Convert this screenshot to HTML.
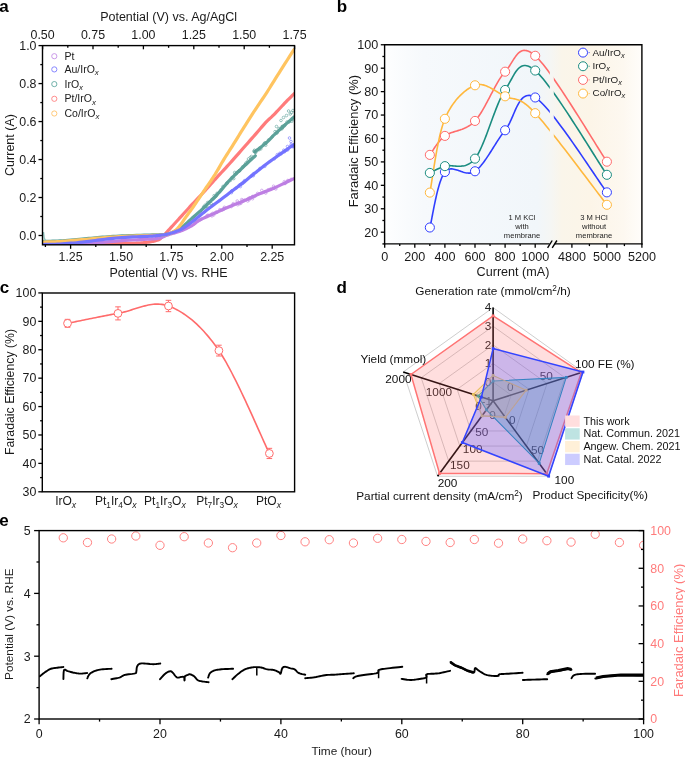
<!DOCTYPE html>
<html><head><meta charset="utf-8"><style>
html,body{margin:0;padding:0;background:#fff;width:685px;height:758px;overflow:hidden}
svg{display:block;will-change:transform}
text{font-family:"Liberation Sans", sans-serif}
</style></head><body>
<svg width="685" height="758" viewBox="0 0 685 758" font-family='"Liberation Sans", sans-serif'>
<text x="-0.80" y="12.30" font-size="17" text-anchor="start" fill="#000" font-weight="bold" >a</text>
<clipPath id="ca"><rect x="42.5" y="45.6" width="252.0" height="199.20000000000002"/></clipPath>
<g clip-path="url(#ca)">
<path d="M43.50,243.80 L46.36,243.80 L50.21,243.80 L54.80,243.81 L59.88,243.81 L65.18,243.81 L70.48,243.81 L75.50,243.81 L80.00,243.80 L84.13,243.78 L88.19,243.76 L92.17,243.74 L96.03,243.71 L99.77,243.68 L103.36,243.65 L106.77,243.63 L110.00,243.60 L113.05,243.58 L115.94,243.55 L118.67,243.53 L121.25,243.51 L123.67,243.49 L125.94,243.46 L128.05,243.43 L130.00,243.40 L131.73,243.36 L133.20,243.33 L134.48,243.30 L135.62,243.26 L136.69,243.21 L137.73,243.15 L138.82,243.08 L140.00,243.00 L141.27,242.90 L142.57,242.79 L143.88,242.66 L145.19,242.52 L146.47,242.38 L147.71,242.23 L148.89,242.07 L150.00,241.90 L151.05,241.72 L152.05,241.53 L153.02,241.33 L153.94,241.12 L154.80,240.91 L155.60,240.70 L156.34,240.49 L157.00,240.30 L157.55,240.14 L157.97,240.03 L158.31,239.94 L158.59,239.84 L158.87,239.71 L159.17,239.53 L159.53,239.27 L160.00,238.90 L160.55,238.44 L161.13,237.92 L161.76,237.33 L162.42,236.67 L163.12,235.96 L163.87,235.20 L164.66,234.37 L165.50,233.50 L166.40,232.56 L167.35,231.53 L168.36,230.44 L169.41,229.30 L170.49,228.12 L171.59,226.92 L172.70,225.71 L173.80,224.50 L174.92,223.28 L176.06,222.03 L177.22,220.76 L178.39,219.47 L179.58,218.17 L180.76,216.87 L181.94,215.58 L183.10,214.30 L184.25,213.03 L185.41,211.76 L186.56,210.49 L187.71,209.22 L188.85,207.95 L190.00,206.69 L191.15,205.44 L192.30,204.20 L193.45,202.97 L194.60,201.76 L195.75,200.56 L196.89,199.36 L198.04,198.16 L199.19,196.96 L200.35,195.74 L201.50,194.50 L202.67,193.23 L203.87,191.91 L205.07,190.58 L206.28,189.24 L207.46,187.92 L208.62,186.63 L209.74,185.38 L210.80,184.20 L211.78,183.12 L212.66,182.12 L213.50,181.19 L214.31,180.29 L215.13,179.37 L216.00,178.41 L216.94,177.36 L218.00,176.20 L219.16,174.94 L220.37,173.63 L221.65,172.26 L222.98,170.83 L224.36,169.34 L225.80,167.79 L227.28,166.18 L228.80,164.50 L230.39,162.73 L232.06,160.86 L233.79,158.91 L235.56,156.90 L237.36,154.86 L239.16,152.82 L240.95,150.79 L242.70,148.80 L244.46,146.80 L246.26,144.76 L248.07,142.70 L249.87,140.65 L251.64,138.64 L253.35,136.69 L254.98,134.83 L256.50,133.10 L257.90,131.49 L259.21,129.96 L260.44,128.52 L261.61,127.14 L262.74,125.83 L263.83,124.58 L264.91,123.37 L266.00,122.20 L267.05,121.12 L268.04,120.16 L268.99,119.28 L269.93,118.43 L270.87,117.58 L271.85,116.69 L272.88,115.71 L274.00,114.60 L275.22,113.34 L276.52,111.97 L277.88,110.52 L279.27,109.01 L280.67,107.50 L282.06,106.00 L283.41,104.56 L284.70,103.20 L285.99,101.87 L287.34,100.49 L288.70,99.12 L290.02,97.79 L291.26,96.55 L292.36,95.44 L293.29,94.51 L294.00,93.80" fill="none" stroke="#ff7b7b" stroke-width="3.2" stroke-linecap="round" stroke-linejoin="round"/>
<path d="M43.50,244.60 L44.74,244.57 L46.34,244.54 L48.24,244.50 L50.38,244.46 L52.68,244.40 L55.10,244.34 L57.56,244.28 L60.00,244.20 L62.51,244.11 L65.21,244.01 L68.02,243.89 L70.91,243.78 L73.80,243.65 L76.65,243.53 L79.40,243.41 L82.00,243.30 L84.41,243.20 L86.69,243.12 L88.87,243.04 L91.00,242.96 L93.13,242.88 L95.31,242.78 L97.59,242.65 L100.00,242.50 L102.52,242.31 L105.08,242.09 L107.69,241.85 L110.38,241.59 L113.13,241.33 L115.98,241.07 L118.94,240.83 L122.00,240.60 L125.34,240.39 L129.00,240.19 L132.85,240.00 L136.75,239.81 L140.55,239.62 L144.12,239.44 L147.32,239.27 L150.00,239.10 L152.14,238.94 L153.86,238.80 L155.24,238.68 L156.38,238.55 L157.33,238.42 L158.20,238.27 L159.06,238.10 L160.00,237.90 L160.95,237.66 L161.80,237.39 L162.59,237.09 L163.31,236.78 L164.00,236.47 L164.66,236.16 L165.33,235.87 L166.00,235.60 L166.67,235.36 L167.32,235.13 L167.95,234.91 L168.56,234.69 L169.17,234.49 L169.77,234.29 L170.38,234.09 L171.00,233.90 L171.61,233.72 L172.20,233.55 L172.78,233.40 L173.37,233.25 L173.97,233.09 L174.60,232.92 L175.27,232.73 L176.00,232.50 L176.77,232.25 L177.58,232.00 L178.42,231.74 L179.29,231.45 L180.19,231.14 L181.13,230.80 L182.10,230.42 L183.10,230.00 L184.16,229.53 L185.29,229.02 L186.46,228.47 L187.66,227.89 L188.87,227.28 L190.06,226.66 L191.21,226.03 L192.30,225.40 L193.29,224.76 L194.17,224.11 L194.99,223.45 L195.81,222.78 L196.67,222.08 L197.63,221.37 L198.72,220.65 L200.00,219.90 L201.49,219.13 L203.16,218.33 L204.97,217.51 L206.87,216.67 L208.82,215.82 L210.79,214.98 L212.73,214.13 L214.60,213.30 L216.42,212.47 L218.25,211.63 L220.07,210.79 L221.90,209.95 L223.72,209.12 L225.55,208.29 L227.38,207.49 L229.20,206.70 L231.02,205.94 L232.85,205.21 L234.67,204.50 L236.50,203.80 L238.32,203.10 L240.15,202.39 L241.97,201.66 L243.80,200.90 L245.62,200.11 L247.45,199.29 L249.28,198.45 L251.10,197.60 L252.93,196.75 L254.75,195.91 L256.57,195.09 L258.40,194.30 L260.18,193.56 L261.90,192.89 L263.59,192.25 L265.30,191.61 L267.06,190.94 L268.90,190.22 L270.87,189.42 L273.00,188.50 L275.46,187.39 L278.29,186.08 L281.33,184.65 L284.41,183.19 L287.38,181.77 L290.08,180.47 L292.34,179.39 L294.00,178.60" fill="none" stroke="#bf7fe3" stroke-width="3.2" stroke-linecap="round" stroke-linejoin="round"/>
<path d="M43.50,241.40 L44.74,241.37 L46.34,241.34 L48.24,241.31 L50.38,241.26 L52.68,241.20 L55.10,241.13 L57.56,241.03 L60.00,240.90 L62.51,240.74 L65.21,240.54 L68.02,240.32 L70.91,240.07 L73.80,239.82 L76.65,239.57 L79.40,239.33 L82.00,239.10 L84.41,238.88 L86.69,238.66 L88.87,238.45 L91.00,238.23 L93.13,238.02 L95.31,237.81 L97.59,237.60 L100.00,237.40 L102.52,237.20 L105.08,237.00 L107.69,236.80 L110.38,236.60 L113.13,236.41 L115.98,236.23 L118.94,236.06 L122.00,235.90 L125.34,235.75 L129.00,235.62 L132.85,235.49 L136.75,235.38 L140.55,235.27 L144.12,235.17 L147.32,235.08 L150.00,235.00 L152.15,234.93 L153.88,234.88 L155.29,234.84 L156.44,234.81 L157.41,234.79 L158.27,234.76 L159.11,234.73 L160.00,234.70 L160.86,234.67 L161.60,234.65 L162.24,234.63 L162.81,234.61 L163.34,234.58 L163.87,234.54 L164.41,234.48 L165.00,234.40 L165.62,234.30 L166.23,234.20 L166.83,234.08 L167.44,233.94 L168.05,233.79 L168.68,233.62 L169.33,233.42 L170.00,233.20 L170.69,232.95 L171.40,232.69 L172.13,232.40 L172.87,232.09 L173.63,231.76 L174.40,231.40 L175.19,231.02 L176.00,230.60 L176.82,230.17 L177.65,229.74 L178.49,229.29 L179.35,228.81 L180.24,228.28 L181.15,227.70 L182.10,227.04 L183.10,226.30 L184.15,225.45 L185.25,224.50 L186.40,223.47 L187.57,222.38 L188.76,221.27 L189.95,220.15 L191.14,219.05 L192.30,218.00 L193.45,216.99 L194.60,216.01 L195.75,215.03 L196.89,214.06 L198.04,213.07 L199.19,212.08 L200.35,211.06 L201.50,210.00 L202.66,208.90 L203.84,207.76 L205.02,206.60 L206.21,205.42 L207.38,204.24 L208.54,203.06 L209.68,201.92 L210.80,200.80 L211.87,199.75 L212.89,198.76 L213.88,197.81 L214.86,196.86 L215.86,195.88 L216.88,194.85 L217.95,193.73 L219.10,192.50 L220.31,191.14 L221.55,189.67 L222.84,188.12 L224.16,186.51 L225.52,184.87 L226.91,183.22 L228.34,181.59 L229.80,180.00 L231.31,178.43 L232.88,176.86 L234.49,175.28 L236.13,173.70 L237.79,172.13 L239.44,170.57 L241.09,169.02 L242.70,167.50 L244.38,165.92 L246.17,164.24 L248.00,162.54 L249.81,160.87 L251.51,159.30 L253.04,157.88 L254.33,156.70 L255.30,155.80" fill="none" stroke="#5ea39b" stroke-width="3.2" stroke-linecap="round" stroke-linejoin="round"/>
<path d="M254.80,151.80 L255.67,151.13 L256.84,150.25 L258.24,149.19 L259.78,148.02 L261.39,146.78 L262.98,145.53 L264.48,144.32 L265.80,143.20 L266.96,142.15 L268.03,141.12 L269.04,140.10 L270.02,139.08 L270.99,138.06 L271.98,137.02 L273.00,135.97 L274.10,134.90 L275.26,133.80 L276.46,132.67 L277.69,131.53 L278.94,130.38 L280.21,129.23 L281.48,128.07 L282.75,126.93 L284.00,125.80 L285.31,124.63 L286.73,123.37 L288.18,122.09 L289.62,120.83 L290.98,119.64 L292.20,118.57 L293.23,117.68 L294.00,117.00" fill="none" stroke="#5ea39b" stroke-width="3.2" stroke-linecap="round" stroke-linejoin="round"/>
<path d="M43.50,242.00 L44.74,241.97 L46.34,241.94 L48.24,241.91 L50.38,241.86 L52.68,241.80 L55.10,241.73 L57.56,241.63 L60.00,241.50 L62.51,241.34 L65.21,241.14 L68.02,240.92 L70.91,240.68 L73.80,240.42 L76.65,240.17 L79.40,239.93 L82.00,239.70 L84.41,239.48 L86.69,239.26 L88.87,239.05 L91.00,238.83 L93.13,238.62 L95.31,238.41 L97.59,238.20 L100.00,238.00 L102.52,237.80 L105.08,237.60 L107.69,237.40 L110.38,237.21 L113.13,237.02 L115.98,236.84 L118.94,236.66 L122.00,236.50 L125.34,236.35 L129.00,236.20 L132.85,236.06 L136.75,235.92 L140.55,235.80 L144.12,235.69 L147.32,235.59 L150.00,235.50 L152.15,235.43 L153.88,235.38 L155.29,235.34 L156.44,235.31 L157.41,235.29 L158.27,235.27 L159.11,235.24 L160.00,235.20 L160.87,235.16 L161.64,235.12 L162.31,235.07 L162.91,235.03 L163.45,234.98 L163.97,234.93 L164.48,234.87 L165.00,234.80 L165.51,234.72 L165.98,234.64 L166.42,234.56 L166.84,234.46 L167.25,234.36 L167.66,234.25 L168.07,234.13 L168.50,234.00 L168.92,233.88 L169.30,233.78 L169.68,233.69 L170.06,233.57 L170.47,233.43 L170.91,233.23 L171.42,232.96 L172.00,232.60 L172.66,232.17 L173.39,231.69 L174.17,231.17 L175.00,230.57 L175.86,229.91 L176.73,229.17 L177.62,228.33 L178.50,227.40 L179.40,226.32 L180.34,225.07 L181.31,223.71 L182.29,222.28 L183.26,220.82 L184.21,219.39 L185.13,218.04 L186.00,216.80 L186.80,215.70 L187.55,214.69 L188.26,213.74 L188.96,212.82 L189.65,211.90 L190.36,210.94 L191.10,209.92 L191.90,208.80 L192.75,207.58 L193.65,206.28 L194.57,204.92 L195.51,203.53 L196.47,202.11 L197.42,200.69 L198.37,199.28 L199.30,197.90 L200.21,196.55 L201.11,195.21 L202.00,193.88 L202.89,192.55 L203.79,191.20 L204.70,189.84 L205.64,188.44 L206.60,187.00 L207.59,185.54 L208.60,184.06 L209.63,182.57 L210.68,181.04 L211.74,179.48 L212.82,177.88 L213.90,176.22 L215.00,174.50 L216.11,172.69 L217.24,170.80 L218.39,168.84 L219.54,166.84 L220.71,164.82 L221.87,162.81 L223.04,160.83 L224.20,158.90 L225.36,157.02 L226.52,155.16 L227.68,153.33 L228.85,151.50 L230.02,149.68 L231.18,147.86 L232.34,146.04 L233.50,144.20 L234.63,142.39 L235.73,140.61 L236.82,138.86 L237.91,137.09 L239.03,135.28 L240.18,133.42 L241.40,131.47 L242.70,129.40 L244.09,127.19 L245.57,124.86 L247.10,122.43 L248.68,119.94 L250.28,117.43 L251.88,114.93 L253.46,112.47 L255.00,110.10 L256.51,107.81 L258.00,105.57 L259.49,103.37 L260.97,101.18 L262.46,99.00 L263.93,96.80 L265.42,94.57 L266.90,92.30 L268.36,90.01 L269.80,87.74 L271.22,85.47 L272.64,83.17 L274.10,80.82 L275.59,78.41 L277.15,75.91 L278.80,73.30 L280.65,70.40 L282.72,67.15 L284.93,63.72 L287.14,60.26 L289.27,56.96 L291.19,53.97 L292.80,51.46 L294.00,49.60" fill="none" stroke="#ffc460" stroke-width="3.2" stroke-linecap="round" stroke-linejoin="round"/>
<path d="M43.50,244.50 L44.74,244.47 L46.34,244.44 L48.24,244.41 L50.38,244.36 L52.68,244.30 L55.10,244.23 L57.56,244.13 L60.00,244.00 L62.51,243.84 L65.21,243.65 L68.02,243.44 L70.91,243.21 L73.80,242.97 L76.65,242.72 L79.40,242.46 L82.00,242.20 L84.41,241.94 L86.69,241.66 L88.87,241.38 L91.00,241.09 L93.13,240.79 L95.31,240.49 L97.59,240.20 L100.00,239.90 L102.52,239.60 L105.08,239.28 L107.69,238.96 L110.38,238.64 L113.13,238.32 L115.98,238.03 L118.94,237.75 L122.00,237.50 L125.34,237.28 L129.00,237.09 L132.85,236.91 L136.75,236.76 L140.55,236.61 L144.12,236.47 L147.32,236.34 L150.00,236.20 L152.15,236.07 L153.88,235.94 L155.29,235.82 L156.44,235.71 L157.41,235.60 L158.27,235.49 L159.11,235.40 L160.00,235.30 L160.86,235.21 L161.60,235.14 L162.24,235.08 L162.81,235.02 L163.34,234.96 L163.87,234.89 L164.41,234.80 L165.00,234.70 L165.62,234.58 L166.23,234.46 L166.83,234.33 L167.44,234.19 L168.05,234.04 L168.68,233.88 L169.33,233.70 L170.00,233.50 L170.69,233.29 L171.40,233.06 L172.13,232.83 L172.87,232.57 L173.63,232.31 L174.40,232.02 L175.19,231.72 L176.00,231.40 L176.82,231.08 L177.65,230.75 L178.49,230.43 L179.35,230.07 L180.24,229.69 L181.15,229.26 L182.10,228.77 L183.10,228.20 L184.15,227.55 L185.25,226.83 L186.40,226.04 L187.57,225.21 L188.76,224.35 L189.95,223.47 L191.14,222.58 L192.30,221.70 L193.45,220.82 L194.60,219.91 L195.75,218.99 L196.89,218.06 L198.04,217.11 L199.19,216.17 L200.35,215.23 L201.50,214.30 L202.66,213.37 L203.84,212.42 L205.02,211.46 L206.21,210.51 L207.38,209.57 L208.54,208.65 L209.68,207.76 L210.80,206.90 L211.87,206.10 L212.88,205.36 L213.87,204.65 L214.85,203.96 L215.84,203.26 L216.87,202.53 L217.94,201.75 L219.10,200.90 L220.31,199.99 L221.56,199.05 L222.84,198.08 L224.16,197.07 L225.53,196.02 L226.96,194.93 L228.45,193.79 L230.00,192.60 L231.65,191.34 L233.41,190.01 L235.24,188.62 L237.12,187.19 L239.01,185.74 L240.90,184.30 L242.73,182.88 L244.50,181.50 L246.22,180.13 L247.95,178.75 L249.66,177.36 L251.34,175.99 L252.98,174.65 L254.57,173.36 L256.08,172.14 L257.50,171.00 L258.83,169.95 L260.07,168.97 L261.23,168.05 L262.34,167.19 L263.41,166.36 L264.45,165.56 L265.47,164.78 L266.50,164.00 L267.49,163.25 L268.42,162.55 L269.31,161.89 L270.19,161.25 L271.07,160.61 L271.98,159.95 L272.95,159.25 L274.00,158.50 L275.13,157.70 L276.32,156.86 L277.57,155.98 L278.84,155.09 L280.14,154.19 L281.44,153.29 L282.73,152.39 L284.00,151.50 L285.32,150.58 L286.73,149.59 L288.19,148.57 L289.62,147.56 L290.98,146.61 L292.20,145.76 L293.23,145.04 L294.00,144.50" fill="none" stroke="#7575ff" stroke-width="3.2" stroke-linecap="round" stroke-linejoin="round"/>
<path d="M43.5,232 L44.2,238 L45.5,240.5" fill="none" stroke="#8fc3bd" stroke-width="1.4"/>
<circle cx="230.44" cy="180.39" r="1.3" stroke="#5a9f97" fill="none" stroke-width="0.6" />
<circle cx="206.81" cy="206.36" r="1.3" stroke="#5a9f97" fill="none" stroke-width="0.6" />
<circle cx="250.37" cy="157.45" r="1.3" stroke="#5a9f97" fill="none" stroke-width="0.6" />
<circle cx="247.70" cy="161.42" r="1.3" stroke="#5a9f97" fill="none" stroke-width="0.6" />
<circle cx="203.52" cy="207.80" r="1.3" stroke="#5a9f97" fill="none" stroke-width="0.6" />
<circle cx="208.53" cy="203.25" r="1.3" stroke="#5a9f97" fill="none" stroke-width="0.6" />
<circle cx="239.90" cy="170.49" r="1.3" stroke="#5a9f97" fill="none" stroke-width="0.6" />
<circle cx="220.98" cy="189.72" r="1.3" stroke="#5a9f97" fill="none" stroke-width="0.6" />
<circle cx="258.98" cy="149.74" r="1.3" stroke="#5a9f97" fill="none" stroke-width="0.6" />
<circle cx="237.29" cy="172.22" r="1.3" stroke="#5a9f97" fill="none" stroke-width="0.6" />
<circle cx="291.77" cy="121.26" r="1.3" stroke="#5a9f97" fill="none" stroke-width="0.6" />
<circle cx="227.22" cy="183.25" r="1.3" stroke="#5a9f97" fill="none" stroke-width="0.6" />
<circle cx="213.56" cy="198.76" r="1.3" stroke="#5a9f97" fill="none" stroke-width="0.6" />
<circle cx="276.72" cy="132.91" r="1.3" stroke="#5a9f97" fill="none" stroke-width="0.6" />
<circle cx="216.99" cy="193.36" r="1.3" stroke="#5a9f97" fill="none" stroke-width="0.6" />
<circle cx="235.01" cy="174.31" r="1.3" stroke="#5a9f97" fill="none" stroke-width="0.6" />
<circle cx="251.49" cy="156.48" r="1.3" stroke="#5a9f97" fill="none" stroke-width="0.6" />
<circle cx="219.36" cy="192.13" r="1.3" stroke="#5a9f97" fill="none" stroke-width="0.6" />
<circle cx="263.96" cy="143.85" r="1.3" stroke="#5a9f97" fill="none" stroke-width="0.6" />
<circle cx="255.04" cy="152.26" r="1.3" stroke="#5a9f97" fill="none" stroke-width="0.6" />
<circle cx="242.60" cy="166.84" r="1.3" stroke="#5a9f97" fill="none" stroke-width="0.6" />
<circle cx="265.71" cy="145.23" r="1.3" stroke="#5a9f97" fill="none" stroke-width="0.6" />
<circle cx="222.95" cy="186.49" r="1.3" stroke="#5a9f97" fill="none" stroke-width="0.6" />
<circle cx="282.26" cy="126.50" r="1.3" stroke="#5a9f97" fill="none" stroke-width="0.6" />
<circle cx="268.57" cy="139.92" r="1.3" stroke="#5a9f97" fill="none" stroke-width="0.6" />
<circle cx="211.10" cy="203.64" r="1.3" stroke="#5a9f97" fill="none" stroke-width="0.6" />
<circle cx="239.30" cy="170.88" r="1.3" stroke="#5a9f97" fill="none" stroke-width="0.6" />
<circle cx="245.96" cy="162.95" r="1.3" stroke="#5a9f97" fill="none" stroke-width="0.6" />
<circle cx="203.69" cy="206.76" r="1.3" stroke="#5a9f97" fill="none" stroke-width="0.6" />
<circle cx="253.86" cy="151.32" r="1.3" stroke="#5a9f97" fill="none" stroke-width="0.6" />
<circle cx="282.29" cy="126.44" r="1.3" stroke="#5a9f97" fill="none" stroke-width="0.6" />
<circle cx="255.87" cy="152.35" r="1.3" stroke="#5a9f97" fill="none" stroke-width="0.6" />
<circle cx="254.51" cy="150.22" r="1.3" stroke="#5a9f97" fill="none" stroke-width="0.6" />
<circle cx="288.80" cy="121.95" r="1.3" stroke="#5a9f97" fill="none" stroke-width="0.6" />
<circle cx="244.57" cy="165.03" r="1.3" stroke="#5a9f97" fill="none" stroke-width="0.6" />
<circle cx="265.94" cy="142.84" r="1.3" stroke="#5a9f97" fill="none" stroke-width="0.6" />
<circle cx="260.83" cy="148.88" r="1.3" stroke="#5a9f97" fill="none" stroke-width="0.6" />
<circle cx="226.75" cy="183.13" r="1.3" stroke="#5a9f97" fill="none" stroke-width="0.6" />
<circle cx="236.26" cy="173.82" r="1.3" stroke="#5a9f97" fill="none" stroke-width="0.6" />
<circle cx="243.40" cy="166.56" r="1.3" stroke="#5a9f97" fill="none" stroke-width="0.6" />
<circle cx="215.80" cy="196.39" r="1.3" stroke="#5a9f97" fill="none" stroke-width="0.6" />
<circle cx="272.21" cy="136.89" r="1.3" stroke="#5a9f97" fill="none" stroke-width="0.6" />
<circle cx="212.16" cy="199.56" r="1.3" stroke="#5a9f97" fill="none" stroke-width="0.6" />
<circle cx="281.91" cy="128.81" r="1.3" stroke="#5a9f97" fill="none" stroke-width="0.6" />
<circle cx="207.57" cy="202.56" r="1.3" stroke="#5a9f97" fill="none" stroke-width="0.6" />
<circle cx="283.04" cy="127.18" r="1.3" stroke="#5a9f97" fill="none" stroke-width="0.6" />
<circle cx="277.01" cy="132.86" r="1.3" stroke="#5a9f97" fill="none" stroke-width="0.6" />
<circle cx="239.04" cy="170.75" r="1.3" stroke="#5a9f97" fill="none" stroke-width="0.6" />
<circle cx="233.72" cy="178.60" r="1.3" stroke="#5a9f97" fill="none" stroke-width="0.6" />
<circle cx="214.19" cy="195.61" r="1.3" stroke="#5a9f97" fill="none" stroke-width="0.6" />
<circle cx="216.56" cy="195.37" r="1.3" stroke="#5a9f97" fill="none" stroke-width="0.6" />
<circle cx="245.59" cy="164.50" r="1.3" stroke="#5a9f97" fill="none" stroke-width="0.6" />
<circle cx="255.38" cy="151.20" r="1.3" stroke="#5a9f97" fill="none" stroke-width="0.6" />
<circle cx="239.38" cy="170.96" r="1.3" stroke="#5a9f97" fill="none" stroke-width="0.6" />
<circle cx="234.71" cy="172.44" r="1.3" stroke="#5a9f97" fill="none" stroke-width="0.6" />
<circle cx="264.91" cy="142.81" r="1.3" stroke="#5a9f97" fill="none" stroke-width="0.6" />
<circle cx="248.46" cy="158.93" r="1.3" stroke="#5a9f97" fill="none" stroke-width="0.6" />
<circle cx="205.08" cy="205.15" r="1.3" stroke="#5a9f97" fill="none" stroke-width="0.6" />
<circle cx="284.56" cy="125.80" r="1.3" stroke="#5a9f97" fill="none" stroke-width="0.6" />
<circle cx="275.00" cy="131.62" r="1.3" stroke="#5a9f97" fill="none" stroke-width="0.6" />
<circle cx="236.88" cy="172.89" r="1.3" stroke="#5a9f97" fill="none" stroke-width="0.6" />
<circle cx="259.62" cy="148.17" r="1.3" stroke="#5a9f97" fill="none" stroke-width="0.6" />
<circle cx="205.85" cy="206.64" r="1.3" stroke="#5a9f97" fill="none" stroke-width="0.6" />
<circle cx="215.26" cy="196.81" r="1.3" stroke="#5a9f97" fill="none" stroke-width="0.6" />
<circle cx="231.97" cy="177.58" r="1.3" stroke="#5a9f97" fill="none" stroke-width="0.6" />
<circle cx="214.22" cy="197.63" r="1.3" stroke="#5a9f97" fill="none" stroke-width="0.6" />
<circle cx="209.54" cy="201.96" r="1.3" stroke="#5a9f97" fill="none" stroke-width="0.6" />
<circle cx="282.19" cy="127.82" r="1.3" stroke="#5a9f97" fill="none" stroke-width="0.6" />
<circle cx="257.72" cy="149.69" r="1.3" stroke="#5a9f97" fill="none" stroke-width="0.6" />
<circle cx="232.65" cy="177.69" r="1.3" stroke="#5a9f97" fill="none" stroke-width="0.6" />
<circle cx="253.31" cy="175.65" r="1.3" stroke="#7070ff" fill="none" stroke-width="0.6" />
<circle cx="293.56" cy="146.14" r="1.3" stroke="#7070ff" fill="none" stroke-width="0.6" />
<circle cx="259.82" cy="168.59" r="1.3" stroke="#7070ff" fill="none" stroke-width="0.6" />
<circle cx="236.54" cy="187.80" r="1.3" stroke="#7070ff" fill="none" stroke-width="0.6" />
<circle cx="251.93" cy="175.30" r="1.3" stroke="#7070ff" fill="none" stroke-width="0.6" />
<circle cx="240.33" cy="186.56" r="1.3" stroke="#7070ff" fill="none" stroke-width="0.6" />
<circle cx="231.48" cy="192.65" r="1.3" stroke="#7070ff" fill="none" stroke-width="0.6" />
<circle cx="239.38" cy="185.12" r="1.3" stroke="#7070ff" fill="none" stroke-width="0.6" />
<circle cx="264.76" cy="166.34" r="1.3" stroke="#7070ff" fill="none" stroke-width="0.6" />
<circle cx="292.62" cy="145.64" r="1.3" stroke="#7070ff" fill="none" stroke-width="0.6" />
<circle cx="285.25" cy="150.54" r="1.3" stroke="#7070ff" fill="none" stroke-width="0.6" />
<circle cx="253.47" cy="173.73" r="1.3" stroke="#7070ff" fill="none" stroke-width="0.6" />
<circle cx="240.69" cy="184.45" r="1.3" stroke="#7070ff" fill="none" stroke-width="0.6" />
<circle cx="279.86" cy="153.27" r="1.3" stroke="#7070ff" fill="none" stroke-width="0.6" />
<circle cx="251.10" cy="176.27" r="1.3" stroke="#7070ff" fill="none" stroke-width="0.6" />
<circle cx="293.04" cy="146.79" r="1.3" stroke="#7070ff" fill="none" stroke-width="0.6" />
<circle cx="284.57" cy="151.72" r="1.3" stroke="#7070ff" fill="none" stroke-width="0.6" />
<circle cx="277.35" cy="154.60" r="1.3" stroke="#7070ff" fill="none" stroke-width="0.6" />
<circle cx="244.51" cy="180.66" r="1.3" stroke="#7070ff" fill="none" stroke-width="0.6" />
<circle cx="231.85" cy="190.99" r="1.3" stroke="#7070ff" fill="none" stroke-width="0.6" />
<circle cx="231.79" cy="190.95" r="1.3" stroke="#7070ff" fill="none" stroke-width="0.6" />
<circle cx="274.32" cy="158.87" r="1.3" stroke="#7070ff" fill="none" stroke-width="0.6" />
<circle cx="291.22" cy="144.43" r="1.3" stroke="#7070ff" fill="none" stroke-width="0.6" />
<circle cx="293.23" cy="145.61" r="1.3" stroke="#7070ff" fill="none" stroke-width="0.6" />
<circle cx="291.12" cy="146.01" r="1.3" stroke="#7070ff" fill="none" stroke-width="0.6" />
<circle cx="244.52" cy="181.98" r="1.3" stroke="#7070ff" fill="none" stroke-width="0.6" />
<circle cx="242.59" cy="183.52" r="1.3" stroke="#7070ff" fill="none" stroke-width="0.6" />
<circle cx="287.62" cy="149.98" r="1.3" stroke="#7070ff" fill="none" stroke-width="0.6" />
<circle cx="283.79" cy="150.20" r="1.3" stroke="#7070ff" fill="none" stroke-width="0.6" />
<circle cx="281.18" cy="153.82" r="1.3" stroke="#7070ff" fill="none" stroke-width="0.6" />
<circle cx="207.97" cy="215.16" r="1.3" stroke="#bb80e2" fill="none" stroke-width="0.6" />
<circle cx="273.54" cy="186.23" r="1.3" stroke="#bb80e2" fill="none" stroke-width="0.6" />
<circle cx="270.51" cy="188.96" r="1.3" stroke="#bb80e2" fill="none" stroke-width="0.6" />
<circle cx="274.18" cy="188.17" r="1.3" stroke="#bb80e2" fill="none" stroke-width="0.6" />
<circle cx="231.26" cy="206.63" r="1.3" stroke="#bb80e2" fill="none" stroke-width="0.6" />
<circle cx="237.21" cy="200.99" r="1.3" stroke="#bb80e2" fill="none" stroke-width="0.6" />
<circle cx="237.73" cy="204.76" r="1.3" stroke="#bb80e2" fill="none" stroke-width="0.6" />
<circle cx="215.98" cy="212.11" r="1.3" stroke="#bb80e2" fill="none" stroke-width="0.6" />
<circle cx="211.94" cy="215.90" r="1.3" stroke="#bb80e2" fill="none" stroke-width="0.6" />
<circle cx="275.81" cy="188.91" r="1.3" stroke="#bb80e2" fill="none" stroke-width="0.6" />
<circle cx="213.74" cy="214.93" r="1.3" stroke="#bb80e2" fill="none" stroke-width="0.6" />
<circle cx="261.78" cy="190.40" r="1.3" stroke="#bb80e2" fill="none" stroke-width="0.6" />
<circle cx="232.94" cy="204.71" r="1.3" stroke="#bb80e2" fill="none" stroke-width="0.6" />
<circle cx="201.34" cy="219.13" r="1.3" stroke="#bb80e2" fill="none" stroke-width="0.6" />
<circle cx="291.26" cy="179.29" r="1.3" stroke="#bb80e2" fill="none" stroke-width="0.6" />
<circle cx="287.76" cy="180.51" r="1.3" stroke="#bb80e2" fill="none" stroke-width="0.6" />
<circle cx="240.78" cy="203.39" r="1.3" stroke="#bb80e2" fill="none" stroke-width="0.6" />
<circle cx="219.84" cy="209.61" r="1.3" stroke="#bb80e2" fill="none" stroke-width="0.6" />
<circle cx="223.67" cy="209.08" r="1.3" stroke="#bb80e2" fill="none" stroke-width="0.6" />
<circle cx="255.13" cy="196.30" r="1.3" stroke="#bb80e2" fill="none" stroke-width="0.6" />
<circle cx="224.38" cy="208.49" r="1.3" stroke="#bb80e2" fill="none" stroke-width="0.6" />
<circle cx="285.54" cy="182.87" r="1.3" stroke="#bb80e2" fill="none" stroke-width="0.6" />
<circle cx="233.26" cy="203.65" r="1.3" stroke="#bb80e2" fill="none" stroke-width="0.6" />
<circle cx="285.00" cy="183.53" r="1.3" stroke="#bb80e2" fill="none" stroke-width="0.6" />
<circle cx="239.54" cy="203.70" r="1.3" stroke="#bb80e2" fill="none" stroke-width="0.6" />
<circle cx="249.99" cy="197.70" r="1.3" stroke="#bb80e2" fill="none" stroke-width="0.6" />
<circle cx="249.21" cy="199.69" r="1.3" stroke="#bb80e2" fill="none" stroke-width="0.6" />
<circle cx="217.21" cy="212.09" r="1.3" stroke="#bb80e2" fill="none" stroke-width="0.6" />
<circle cx="200.37" cy="219.78" r="1.3" stroke="#bb80e2" fill="none" stroke-width="0.6" />
<circle cx="244.51" cy="200.00" r="1.3" stroke="#bb80e2" fill="none" stroke-width="0.6" />
<circle cx="268.17" cy="189.68" r="1.3" stroke="#bb80e2" fill="none" stroke-width="0.6" />
<circle cx="248.72" cy="198.31" r="1.3" stroke="#bb80e2" fill="none" stroke-width="0.6" />
<circle cx="252.21" cy="197.02" r="1.3" stroke="#bb80e2" fill="none" stroke-width="0.6" />
<circle cx="252.67" cy="196.46" r="1.3" stroke="#bb80e2" fill="none" stroke-width="0.6" />
<circle cx="223.36" cy="208.99" r="1.3" stroke="#bb80e2" fill="none" stroke-width="0.6" />
<circle cx="247.73" cy="200.98" r="1.3" stroke="#bb80e2" fill="none" stroke-width="0.6" />
<circle cx="252.80" cy="197.06" r="1.3" stroke="#bb80e2" fill="none" stroke-width="0.6" />
<circle cx="241.67" cy="199.60" r="1.3" stroke="#bb80e2" fill="none" stroke-width="0.6" />
<circle cx="257.58" cy="193.42" r="1.3" stroke="#bb80e2" fill="none" stroke-width="0.6" />
<circle cx="265.12" cy="191.56" r="1.3" stroke="#bb80e2" fill="none" stroke-width="0.6" />
<circle cx="242.52" cy="200.39" r="1.3" stroke="#bb80e2" fill="none" stroke-width="0.6" />
<circle cx="288.50" cy="180.73" r="1.3" stroke="#bb80e2" fill="none" stroke-width="0.6" />
<circle cx="265.73" cy="193.05" r="1.3" stroke="#bb80e2" fill="none" stroke-width="0.6" />
<circle cx="224.40" cy="207.28" r="1.3" stroke="#bb80e2" fill="none" stroke-width="0.6" />
<circle cx="252.59" cy="198.71" r="1.3" stroke="#bb80e2" fill="none" stroke-width="0.6" />
<circle cx="212.89" cy="213.30" r="1.3" stroke="#bb80e2" fill="none" stroke-width="0.6" />
<circle cx="211.43" cy="214.27" r="1.3" stroke="#bb80e2" fill="none" stroke-width="0.6" />
<circle cx="222.62" cy="209.75" r="1.3" stroke="#bb80e2" fill="none" stroke-width="0.6" />
<circle cx="206.87" cy="215.82" r="1.3" stroke="#bb80e2" fill="none" stroke-width="0.6" />
<circle cx="284.32" cy="181.66" r="1.3" stroke="#bb80e2" fill="none" stroke-width="0.6" />
<circle cx="289.50" cy="138.00" r="1.3" stroke="#6b6bff" fill="none" stroke-width="0.6" />
<circle cx="288.60" cy="111.00" r="1.3" stroke="#5a9f97" fill="none" stroke-width="0.6" />
<circle cx="291.50" cy="112.50" r="1.3" stroke="#5a9f97" fill="none" stroke-width="0.6" />
<circle cx="290.20" cy="114.00" r="1.3" stroke="#5a9f97" fill="none" stroke-width="0.6" />
<circle cx="293.00" cy="110.50" r="1.3" stroke="#5a9f97" fill="none" stroke-width="0.6" />
<circle cx="286.50" cy="115.50" r="1.3" stroke="#5a9f97" fill="none" stroke-width="0.6" />
<circle cx="283.50" cy="117.50" r="1.3" stroke="#5a9f97" fill="none" stroke-width="0.6" />
<circle cx="281.00" cy="120.50" r="1.3" stroke="#5a9f97" fill="none" stroke-width="0.6" />
<circle cx="292.50" cy="119.50" r="1.3" stroke="#5a9f97" fill="none" stroke-width="0.6" />
<circle cx="289.50" cy="121.50" r="1.3" stroke="#5a9f97" fill="none" stroke-width="0.6" />
<circle cx="287.00" cy="122.00" r="1.3" stroke="#5a9f97" fill="none" stroke-width="0.6" />
<circle cx="285.00" cy="124.80" r="1.3" stroke="#5a9f97" fill="none" stroke-width="0.6" />
<circle cx="276.50" cy="126.50" r="1.3" stroke="#5a9f97" fill="none" stroke-width="0.6" />
<circle cx="279.00" cy="128.50" r="1.3" stroke="#5a9f97" fill="none" stroke-width="0.6" />
<circle cx="291.00" cy="141.50" r="1.3" stroke="#7070ff" fill="none" stroke-width="0.6" />
<circle cx="287.50" cy="146.50" r="1.3" stroke="#7070ff" fill="none" stroke-width="0.6" />
</g>
<rect x="42.50" y="45.60" width="252.00" height="199.20" fill="none" stroke="#000" stroke-width="1.4"/>
<line x1="38.50" y1="235.50" x2="42.50" y2="235.50" stroke="#000" stroke-width="1.3" />
<text x="36.50" y="239.80" font-size="12.4" text-anchor="end" fill="#1a1a1a" font-weight="normal" >0.0</text>
<line x1="38.50" y1="197.52" x2="42.50" y2="197.52" stroke="#000" stroke-width="1.3" />
<text x="36.50" y="201.82" font-size="12.4" text-anchor="end" fill="#1a1a1a" font-weight="normal" >0.2</text>
<line x1="38.50" y1="159.54" x2="42.50" y2="159.54" stroke="#000" stroke-width="1.3" />
<text x="36.50" y="163.84" font-size="12.4" text-anchor="end" fill="#1a1a1a" font-weight="normal" >0.4</text>
<line x1="38.50" y1="121.56" x2="42.50" y2="121.56" stroke="#000" stroke-width="1.3" />
<text x="36.50" y="125.86" font-size="12.4" text-anchor="end" fill="#1a1a1a" font-weight="normal" >0.6</text>
<line x1="38.50" y1="83.58" x2="42.50" y2="83.58" stroke="#000" stroke-width="1.3" />
<text x="36.50" y="87.88" font-size="12.4" text-anchor="end" fill="#1a1a1a" font-weight="normal" >0.8</text>
<line x1="38.50" y1="45.60" x2="42.50" y2="45.60" stroke="#000" stroke-width="1.3" />
<text x="36.50" y="49.90" font-size="12.4" text-anchor="end" fill="#1a1a1a" font-weight="normal" >1.0</text>
<line x1="40.30" y1="216.51" x2="42.50" y2="216.51" stroke="#000" stroke-width="1.3" />
<line x1="40.30" y1="178.53" x2="42.50" y2="178.53" stroke="#000" stroke-width="1.3" />
<line x1="40.30" y1="140.55" x2="42.50" y2="140.55" stroke="#000" stroke-width="1.3" />
<line x1="40.30" y1="102.57" x2="42.50" y2="102.57" stroke="#000" stroke-width="1.3" />
<line x1="40.30" y1="64.59" x2="42.50" y2="64.59" stroke="#000" stroke-width="1.3" />
<line x1="42.60" y1="45.60" x2="42.60" y2="49.30" stroke="#000" stroke-width="1.3" />
<text x="42.60" y="38.80" font-size="12.4" text-anchor="middle" fill="#1a1a1a" font-weight="normal" >0.50</text>
<line x1="93.00" y1="45.60" x2="93.00" y2="49.30" stroke="#000" stroke-width="1.3" />
<text x="93.00" y="38.80" font-size="12.4" text-anchor="middle" fill="#1a1a1a" font-weight="normal" >0.75</text>
<line x1="143.40" y1="45.60" x2="143.40" y2="49.30" stroke="#000" stroke-width="1.3" />
<text x="143.40" y="38.80" font-size="12.4" text-anchor="middle" fill="#1a1a1a" font-weight="normal" >1.00</text>
<line x1="193.80" y1="45.60" x2="193.80" y2="49.30" stroke="#000" stroke-width="1.3" />
<text x="193.80" y="38.80" font-size="12.4" text-anchor="middle" fill="#1a1a1a" font-weight="normal" >1.25</text>
<line x1="244.20" y1="45.60" x2="244.20" y2="49.30" stroke="#000" stroke-width="1.3" />
<text x="244.20" y="38.80" font-size="12.4" text-anchor="middle" fill="#1a1a1a" font-weight="normal" >1.50</text>
<line x1="294.60" y1="45.60" x2="294.60" y2="49.30" stroke="#000" stroke-width="1.3" />
<text x="294.60" y="38.80" font-size="12.4" text-anchor="middle" fill="#1a1a1a" font-weight="normal" >1.75</text>
<line x1="67.80" y1="45.60" x2="67.80" y2="47.80" stroke="#000" stroke-width="1.3" />
<line x1="118.20" y1="45.60" x2="118.20" y2="47.80" stroke="#000" stroke-width="1.3" />
<line x1="168.60" y1="45.60" x2="168.60" y2="47.80" stroke="#000" stroke-width="1.3" />
<line x1="219.00" y1="45.60" x2="219.00" y2="47.80" stroke="#000" stroke-width="1.3" />
<line x1="269.40" y1="45.60" x2="269.40" y2="47.80" stroke="#000" stroke-width="1.3" />
<line x1="70.60" y1="244.80" x2="70.60" y2="248.80" stroke="#000" stroke-width="1.3" />
<text x="70.60" y="260.50" font-size="12.4" text-anchor="middle" fill="#1a1a1a" font-weight="normal" >1.25</text>
<line x1="121.00" y1="244.80" x2="121.00" y2="248.80" stroke="#000" stroke-width="1.3" />
<text x="121.00" y="260.50" font-size="12.4" text-anchor="middle" fill="#1a1a1a" font-weight="normal" >1.50</text>
<line x1="171.40" y1="244.80" x2="171.40" y2="248.80" stroke="#000" stroke-width="1.3" />
<text x="171.40" y="260.50" font-size="12.4" text-anchor="middle" fill="#1a1a1a" font-weight="normal" >1.75</text>
<line x1="221.80" y1="244.80" x2="221.80" y2="248.80" stroke="#000" stroke-width="1.3" />
<text x="221.80" y="260.50" font-size="12.4" text-anchor="middle" fill="#1a1a1a" font-weight="normal" >2.00</text>
<line x1="272.20" y1="244.80" x2="272.20" y2="248.80" stroke="#000" stroke-width="1.3" />
<text x="272.20" y="260.50" font-size="12.4" text-anchor="middle" fill="#1a1a1a" font-weight="normal" >2.25</text>
<line x1="45.40" y1="244.80" x2="45.40" y2="247.00" stroke="#000" stroke-width="1.3" />
<line x1="95.80" y1="244.80" x2="95.80" y2="247.00" stroke="#000" stroke-width="1.3" />
<line x1="146.20" y1="244.80" x2="146.20" y2="247.00" stroke="#000" stroke-width="1.3" />
<line x1="196.60" y1="244.80" x2="196.60" y2="247.00" stroke="#000" stroke-width="1.3" />
<line x1="247.00" y1="244.80" x2="247.00" y2="247.00" stroke="#000" stroke-width="1.3" />
<text x="168.60" y="21.00" font-size="12.5" text-anchor="middle" fill="#1a1a1a" font-weight="normal" >Potential (V) vs. Ag/AgCl</text>
<text x="168.50" y="276.70" font-size="12.5" text-anchor="middle" fill="#1a1a1a" font-weight="normal" >Potential (V) vs. RHE</text>
<text x="14.20" y="145.00" font-size="12.5" text-anchor="middle" fill="#1a1a1a" font-weight="normal" transform="rotate(-90 14.2 145)">Current (A)</text>
<circle cx="54.30" cy="56.20" r="2.6" stroke="#c58fe6" fill="none" stroke-width="0.9" />
<text x="64.50" y="59.70" font-size="10.5" text-anchor="start" fill="#1a1a1a" font-weight="normal" >Pt</text>
<circle cx="54.30" cy="69.40" r="2.6" stroke="#7b7bff" fill="none" stroke-width="0.9" />
<text x="64.50" y="72.90" font-size="10.5" text-anchor="start" fill="#1a1a1a" font-weight="normal" >Au/IrO<tspan font-style="italic" font-size="0.75em" dy="0.28em">x</tspan></text>
<circle cx="54.30" cy="84.10" r="2.6" stroke="#62a8a0" fill="none" stroke-width="0.9" />
<text x="64.50" y="87.60" font-size="10.5" text-anchor="start" fill="#1a1a1a" font-weight="normal" >IrO<tspan font-style="italic" font-size="0.75em" dy="0.28em">x</tspan></text>
<circle cx="54.30" cy="98.80" r="2.6" stroke="#ff8080" fill="none" stroke-width="0.9" />
<text x="64.50" y="102.30" font-size="10.5" text-anchor="start" fill="#1a1a1a" font-weight="normal" >Pt/IrO<tspan font-style="italic" font-size="0.75em" dy="0.28em">x</tspan></text>
<circle cx="54.30" cy="113.50" r="2.6" stroke="#ffc36b" fill="none" stroke-width="0.9" />
<text x="64.50" y="117.00" font-size="10.5" text-anchor="start" fill="#1a1a1a" font-weight="normal" >Co/IrO<tspan font-style="italic" font-size="0.75em" dy="0.28em">x</tspan></text>
<text x="336.80" y="12.30" font-size="17" text-anchor="start" fill="#000" font-weight="bold" >b</text>
<linearGradient id="gb" x1="384.5" y1="0" x2="641.5" y2="0" gradientUnits="userSpaceOnUse">
<stop offset="0" stop-color="#ffffff"/>
<stop offset="0.03" stop-color="#fcfdfe"/>
<stop offset="0.15" stop-color="#f6f9fc"/>
<stop offset="0.595" stop-color="#f1f6fa"/>
<stop offset="0.645" stop-color="#f5f6f4"/>
<stop offset="0.69" stop-color="#faf5ea"/>
<stop offset="0.80" stop-color="#fcf5e8"/>
<stop offset="0.93" stop-color="#fdf8f0"/>
<stop offset="1" stop-color="#fffdfa"/>
</linearGradient>
<rect x="384.6" y="44.7" width="257.29999999999995" height="199.2" fill="url(#gb)"/>
<text x="522.00" y="220.40" font-size="7.6" text-anchor="middle" fill="#222" font-weight="normal" >1 M KCl</text>
<text x="522.00" y="229.05" font-size="7.6" text-anchor="middle" fill="#222" font-weight="normal" >with</text>
<text x="522.00" y="237.70" font-size="7.6" text-anchor="middle" fill="#222" font-weight="normal" >membrane</text>
<text x="594.00" y="220.40" font-size="7.6" text-anchor="middle" fill="#222" font-weight="normal" >3 M HCl</text>
<text x="594.00" y="229.05" font-size="7.6" text-anchor="middle" fill="#222" font-weight="normal" >without</text>
<text x="594.00" y="237.70" font-size="7.6" text-anchor="middle" fill="#222" font-weight="normal" >membrane</text>
<clipPath id="cb"><rect x="384.6" y="44.7" width="257.29999999999995" height="199.2"/></clipPath>
<g clip-path="url(#cb)">
<clipPath id="cbg"><rect x="384.5" y="44.7" width="165.3" height="199.2"/><rect x="553.8" y="44.7" width="87.7" height="199.2"/></clipPath>
<g clip-path="url(#cbg)">
<path d="M429.85,227.51 L430.11,226.50 L430.39,225.31 L430.68,223.96 L430.99,222.47 L431.31,220.84 L431.66,219.08 L432.02,217.22 L432.39,215.26 L432.78,213.21 L433.19,211.09 L433.62,208.90 L434.06,206.67 L434.52,204.40 L435.00,202.10 L435.49,199.79 L436.00,197.48 L436.53,195.19 L437.07,192.91 L437.63,190.68 L438.21,188.49 L438.80,186.36 L439.42,184.31 L440.04,182.34 L440.69,180.47 L441.35,178.71 L442.02,177.07 L442.72,175.57 L443.43,174.21 L444.16,173.01 L444.90,171.98 L445.67,171.13 L446.47,170.43 L447.30,169.88 L448.16,169.46 L449.05,169.16 L449.96,168.98 L450.89,168.90 L451.85,168.92 L452.82,169.01 L453.82,169.18 L454.83,169.41 L455.86,169.69 L456.90,170.01 L457.95,170.36 L459.01,170.73 L460.08,171.10 L461.16,171.47 L462.24,171.83 L463.32,172.17 L464.41,172.47 L465.50,172.73 L466.58,172.93 L467.66,173.07 L468.74,173.12 L469.81,173.10 L470.87,172.97 L471.92,172.74 L472.96,172.39 L473.99,171.90 L475.00,171.28 L476.00,170.54 L477.01,169.70 L478.01,168.78 L479.01,167.77 L480.02,166.69 L481.02,165.53 L482.02,164.31 L483.03,163.02 L484.03,161.68 L485.03,160.30 L486.04,158.86 L487.04,157.39 L488.04,155.88 L489.05,154.35 L490.05,152.79 L491.05,151.21 L492.06,149.62 L493.06,148.02 L494.06,146.43 L495.07,144.83 L496.07,143.25 L497.07,141.68 L498.08,140.13 L499.08,138.60 L500.08,137.11 L501.09,135.65 L502.09,134.23 L503.09,132.86 L504.10,131.54 L505.10,130.28 L506.08,128.99 L507.02,127.59 L507.92,126.09 L508.79,124.51 L509.64,122.86 L510.45,121.15 L511.26,119.40 L512.04,117.61 L512.82,115.81 L513.59,114.01 L514.37,112.21 L515.14,110.44 L515.93,108.70 L516.73,107.01 L517.55,105.39 L518.39,103.83 L519.26,102.37 L520.16,101.01 L521.10,99.77 L522.09,98.65 L523.11,97.67 L524.19,96.85 L525.32,96.20 L526.52,95.73 L527.78,95.46 L529.10,95.39 L530.51,95.55 L531.99,95.94 L533.55,96.58 L535.20,97.48 L536.98,98.70 L538.92,100.29 L541.01,102.22 L543.23,104.47 L545.57,107.00 L548.02,109.80 L550.57,112.84 L553.21,116.10 L555.91,119.55 L558.67,123.16 L561.48,126.92 L564.33,130.79 L567.19,134.76 L570.06,138.80 L572.93,142.87 L575.78,146.97 L578.61,151.06 L581.39,155.12 L584.11,159.12 L586.77,163.04 L589.35,166.85 L591.84,170.54 L594.22,174.07 L596.48,177.42 L598.62,180.57 L600.61,183.48 L602.45,186.15 L604.12,188.53 L605.60,190.62 L606.90,192.37" fill="none" stroke="#2f3dff" stroke-width="1.6"/>
<path d="M429.85,172.92 L430.11,172.80 L430.39,172.67 L430.68,172.52 L430.99,172.36 L431.31,172.19 L431.66,172.01 L432.02,171.82 L432.39,171.62 L432.78,171.41 L433.19,171.19 L433.62,170.96 L434.06,170.73 L434.52,170.49 L435.00,170.24 L435.49,169.99 L436.00,169.74 L436.53,169.48 L437.07,169.22 L437.63,168.96 L438.21,168.70 L438.80,168.43 L439.42,168.17 L440.04,167.90 L440.69,167.64 L441.35,167.38 L442.02,167.12 L442.72,166.87 L443.43,166.61 L444.16,166.37 L444.90,166.13 L445.67,165.92 L446.47,165.77 L447.30,165.68 L448.16,165.63 L449.05,165.63 L449.96,165.65 L450.89,165.70 L451.85,165.77 L452.82,165.86 L453.82,165.95 L454.83,166.03 L455.86,166.11 L456.90,166.18 L457.95,166.23 L459.01,166.24 L460.08,166.23 L461.16,166.17 L462.24,166.07 L463.32,165.91 L464.41,165.68 L465.50,165.40 L466.58,165.03 L467.66,164.59 L468.74,164.05 L469.81,163.43 L470.87,162.70 L471.92,161.86 L472.96,160.91 L473.99,159.83 L475.00,158.63 L476.00,157.27 L477.01,155.73 L478.01,154.02 L479.01,152.16 L480.02,150.16 L481.02,148.03 L482.02,145.78 L483.03,143.43 L484.03,140.98 L485.03,138.45 L486.04,135.86 L487.04,133.21 L488.04,130.52 L489.05,127.79 L490.05,125.05 L491.05,122.30 L492.06,119.56 L493.06,116.83 L494.06,114.14 L495.07,111.48 L496.07,108.88 L497.07,106.35 L498.08,103.90 L499.08,101.54 L500.08,99.28 L501.09,97.14 L502.09,95.13 L503.09,93.25 L504.10,91.53 L505.10,89.98 L506.08,88.50 L507.02,87.00 L507.92,85.49 L508.79,83.97 L509.64,82.46 L510.45,80.96 L511.26,79.49 L512.04,78.04 L512.82,76.63 L513.59,75.27 L514.37,73.96 L515.14,72.72 L515.93,71.55 L516.73,70.45 L517.55,69.45 L518.39,68.54 L519.26,67.74 L520.16,67.04 L521.10,66.47 L522.09,66.03 L523.11,65.72 L524.19,65.57 L525.32,65.56 L526.52,65.72 L527.78,66.05 L529.10,66.55 L530.51,67.25 L531.99,68.14 L533.55,69.23 L535.20,70.53 L536.98,72.14 L538.92,74.11 L541.01,76.42 L543.23,79.04 L545.57,81.96 L548.02,85.14 L550.57,88.55 L553.21,92.18 L555.91,96.00 L558.67,99.99 L561.48,104.10 L564.33,108.34 L567.19,112.65 L570.06,117.03 L572.93,121.45 L575.78,125.88 L578.61,130.29 L581.39,134.66 L584.11,138.97 L586.77,143.18 L589.35,147.28 L591.84,151.24 L594.22,155.04 L596.48,158.64 L598.62,162.02 L600.61,165.16 L602.45,168.04 L604.12,170.62 L605.60,172.88 L606.90,174.80" fill="none" stroke="#1a8c80" stroke-width="1.6"/>
<path d="M429.85,154.88 L430.11,154.54 L430.39,154.16 L430.68,153.73 L430.99,153.27 L431.31,152.77 L431.66,152.24 L432.02,151.67 L432.39,151.08 L432.78,150.46 L433.19,149.81 L433.62,149.15 L434.06,148.46 L434.52,147.77 L435.00,147.05 L435.49,146.33 L436.00,145.60 L436.53,144.86 L437.07,144.12 L437.63,143.38 L438.21,142.64 L438.80,141.90 L439.42,141.17 L440.04,140.45 L440.69,139.75 L441.35,139.05 L442.02,138.38 L442.72,137.72 L443.43,137.09 L444.16,136.48 L444.90,135.90 L445.67,135.36 L446.47,134.86 L447.30,134.40 L448.16,133.97 L449.05,133.57 L449.96,133.20 L450.89,132.84 L451.85,132.51 L452.82,132.19 L453.82,131.88 L454.83,131.57 L455.86,131.26 L456.90,130.95 L457.95,130.63 L459.01,130.29 L460.08,129.94 L461.16,129.57 L462.24,129.18 L463.32,128.75 L464.41,128.29 L465.50,127.79 L466.58,127.26 L467.66,126.67 L468.74,126.03 L469.81,125.34 L470.87,124.59 L471.92,123.77 L472.96,122.89 L473.99,121.94 L475.00,120.91 L476.00,119.78 L477.01,118.55 L478.01,117.22 L479.01,115.80 L480.02,114.30 L481.02,112.72 L482.02,111.08 L483.03,109.37 L484.03,107.61 L485.03,105.81 L486.04,103.97 L487.04,102.09 L488.04,100.20 L489.05,98.28 L490.05,96.36 L491.05,94.44 L492.06,92.53 L493.06,90.63 L494.06,88.76 L495.07,86.91 L496.07,85.10 L497.07,83.33 L498.08,81.62 L499.08,79.96 L500.08,78.38 L501.09,76.86 L502.09,75.43 L503.09,74.09 L504.10,72.84 L505.10,71.70 L506.08,70.59 L507.02,69.42 L507.92,68.22 L508.79,66.98 L509.64,65.71 L510.45,64.44 L511.26,63.16 L512.04,61.89 L512.82,60.64 L513.59,59.42 L514.37,58.23 L515.14,57.09 L515.93,56.00 L516.73,54.99 L517.55,54.04 L518.39,53.19 L519.26,52.43 L520.16,51.78 L521.10,51.24 L522.09,50.83 L523.11,50.55 L524.19,50.42 L525.32,50.44 L526.52,50.63 L527.78,50.99 L529.10,51.54 L530.51,52.28 L531.99,53.23 L533.55,54.39 L535.20,55.77 L536.98,57.46 L538.92,59.51 L541.01,61.90 L543.23,64.61 L545.57,67.60 L548.02,70.85 L550.57,74.34 L553.21,78.04 L555.91,81.92 L558.67,85.97 L561.48,90.15 L564.33,94.44 L567.19,98.82 L570.06,103.26 L572.93,107.73 L575.78,112.21 L578.61,116.67 L581.39,121.09 L584.11,125.45 L586.77,129.71 L589.35,133.85 L591.84,137.85 L594.22,141.68 L596.48,145.32 L598.62,148.74 L600.61,151.92 L602.45,154.83 L604.12,157.44 L605.60,159.73 L606.90,161.68" fill="none" stroke="#ff6b6b" stroke-width="1.6"/>
<path d="M429.85,192.60 L430.11,191.27 L430.39,189.74 L430.68,188.03 L430.99,186.15 L431.31,184.11 L431.66,181.92 L432.02,179.60 L432.39,177.16 L432.78,174.62 L433.19,171.98 L433.62,169.25 L434.06,166.46 L434.52,163.61 L435.00,160.72 L435.49,157.80 L436.00,154.85 L436.53,151.90 L437.07,148.96 L437.63,146.04 L438.21,143.15 L438.80,140.30 L439.42,137.51 L440.04,134.80 L440.69,132.16 L441.35,129.62 L442.02,127.19 L442.72,124.88 L443.43,122.70 L444.16,120.67 L444.90,118.80 L445.67,117.03 L446.47,115.30 L447.30,113.62 L448.16,111.97 L449.05,110.37 L449.96,108.81 L450.89,107.29 L451.85,105.81 L452.82,104.38 L453.82,103.00 L454.83,101.65 L455.86,100.36 L456.90,99.11 L457.95,97.90 L459.01,96.75 L460.08,95.63 L461.16,94.57 L462.24,93.56 L463.32,92.59 L464.41,91.67 L465.50,90.80 L466.58,89.99 L467.66,89.22 L468.74,88.50 L469.81,87.84 L470.87,87.22 L471.92,86.66 L472.96,86.15 L473.99,85.70 L475.00,85.29 L476.00,84.96 L477.01,84.72 L478.01,84.57 L479.01,84.49 L480.02,84.49 L481.02,84.55 L482.02,84.69 L483.03,84.89 L484.03,85.14 L485.03,85.45 L486.04,85.81 L487.04,86.21 L488.04,86.66 L489.05,87.14 L490.05,87.65 L491.05,88.19 L492.06,88.76 L493.06,89.34 L494.06,89.94 L495.07,90.55 L496.07,91.17 L497.07,91.79 L498.08,92.41 L499.08,93.02 L500.08,93.62 L501.09,94.20 L502.09,94.77 L503.09,95.31 L504.10,95.82 L505.10,96.31 L506.08,96.74 L507.02,97.11 L507.92,97.42 L508.79,97.69 L509.64,97.91 L510.45,98.11 L511.26,98.28 L512.04,98.44 L512.82,98.58 L513.59,98.73 L514.37,98.88 L515.14,99.04 L515.93,99.23 L516.73,99.45 L517.55,99.70 L518.39,100.00 L519.26,100.35 L520.16,100.77 L521.10,101.24 L522.09,101.80 L523.11,102.44 L524.19,103.17 L525.32,103.99 L526.52,104.92 L527.78,105.97 L529.10,107.14 L530.51,108.44 L531.99,109.87 L533.55,111.45 L535.20,113.18 L536.98,115.11 L538.92,117.30 L541.01,119.72 L543.23,122.35 L545.57,125.18 L548.02,128.18 L550.57,131.34 L553.21,134.63 L555.91,138.05 L558.67,141.57 L561.48,145.17 L564.33,148.84 L567.19,152.55 L570.06,156.29 L572.93,160.04 L575.78,163.77 L578.61,167.49 L581.39,171.15 L584.11,174.75 L586.77,178.27 L589.35,181.68 L591.84,184.98 L594.22,188.13 L596.48,191.13 L598.62,193.95 L600.61,196.58 L602.45,199.00 L604.12,201.18 L605.60,203.12 L606.90,204.79" fill="none" stroke="#ffb83d" stroke-width="1.6"/>
</g>
<circle cx="429.85" cy="227.51" r="4.55" stroke="#2f3dff" fill="#fff" stroke-width="1.0" />
<circle cx="444.90" cy="171.98" r="4.55" stroke="#2f3dff" fill="#fff" stroke-width="1.0" />
<circle cx="475.00" cy="171.28" r="4.55" stroke="#2f3dff" fill="#fff" stroke-width="1.0" />
<circle cx="505.10" cy="130.28" r="4.55" stroke="#2f3dff" fill="#fff" stroke-width="1.0" />
<circle cx="535.20" cy="97.48" r="4.55" stroke="#2f3dff" fill="#fff" stroke-width="1.0" />
<circle cx="606.90" cy="192.37" r="4.55" stroke="#2f3dff" fill="#fff" stroke-width="1.0" />
<circle cx="429.85" cy="172.92" r="4.55" stroke="#1a8c80" fill="#fff" stroke-width="1.0" />
<circle cx="444.90" cy="166.13" r="4.55" stroke="#1a8c80" fill="#fff" stroke-width="1.0" />
<circle cx="475.00" cy="158.63" r="4.55" stroke="#1a8c80" fill="#fff" stroke-width="1.0" />
<circle cx="505.10" cy="89.98" r="4.55" stroke="#1a8c80" fill="#fff" stroke-width="1.0" />
<circle cx="535.20" cy="70.53" r="4.55" stroke="#1a8c80" fill="#fff" stroke-width="1.0" />
<circle cx="606.90" cy="174.80" r="4.55" stroke="#1a8c80" fill="#fff" stroke-width="1.0" />
<circle cx="429.85" cy="154.88" r="4.55" stroke="#ff6b6b" fill="#fff" stroke-width="1.0" />
<circle cx="444.90" cy="135.90" r="4.55" stroke="#ff6b6b" fill="#fff" stroke-width="1.0" />
<circle cx="475.00" cy="120.91" r="4.55" stroke="#ff6b6b" fill="#fff" stroke-width="1.0" />
<circle cx="505.10" cy="71.70" r="4.55" stroke="#ff6b6b" fill="#fff" stroke-width="1.0" />
<circle cx="535.20" cy="55.77" r="4.55" stroke="#ff6b6b" fill="#fff" stroke-width="1.0" />
<circle cx="606.90" cy="161.68" r="4.55" stroke="#ff6b6b" fill="#fff" stroke-width="1.0" />
<circle cx="429.85" cy="192.60" r="4.55" stroke="#ffb83d" fill="#fff" stroke-width="1.0" />
<circle cx="444.90" cy="118.80" r="4.55" stroke="#ffb83d" fill="#fff" stroke-width="1.0" />
<circle cx="475.00" cy="85.29" r="4.55" stroke="#ffb83d" fill="#fff" stroke-width="1.0" />
<circle cx="505.10" cy="96.31" r="4.55" stroke="#ffb83d" fill="#fff" stroke-width="1.0" />
<circle cx="535.20" cy="113.18" r="4.55" stroke="#ffb83d" fill="#fff" stroke-width="1.0" />
<circle cx="606.90" cy="204.79" r="4.55" stroke="#ffb83d" fill="#fff" stroke-width="1.0" />
</g>
<line x1="384.60" y1="44.70" x2="641.90" y2="44.70" stroke="#000" stroke-width="1.4" />
<line x1="384.60" y1="44.00" x2="384.60" y2="244.60" stroke="#000" stroke-width="1.4" />
<line x1="641.90" y1="44.00" x2="641.90" y2="244.60" stroke="#000" stroke-width="1.4" />
<line x1="383.90" y1="243.90" x2="549.60" y2="243.90" stroke="#000" stroke-width="1.4" />
<line x1="554.60" y1="243.90" x2="642.60" y2="243.90" stroke="#000" stroke-width="1.4" />
<line x1="547.60" y1="247.80" x2="552.20" y2="240.50" stroke="#000" stroke-width="1.4" />
<line x1="552.20" y1="247.80" x2="556.90" y2="240.50" stroke="#000" stroke-width="1.4" />
<line x1="380.80" y1="232.20" x2="384.60" y2="232.20" stroke="#000" stroke-width="1.3" />
<text x="378.30" y="236.60" font-size="12.6" text-anchor="end" fill="#1a1a1a" font-weight="normal" >20</text>
<line x1="380.80" y1="208.77" x2="384.60" y2="208.77" stroke="#000" stroke-width="1.3" />
<text x="378.30" y="213.17" font-size="12.6" text-anchor="end" fill="#1a1a1a" font-weight="normal" >30</text>
<line x1="380.80" y1="185.34" x2="384.60" y2="185.34" stroke="#000" stroke-width="1.3" />
<text x="378.30" y="189.74" font-size="12.6" text-anchor="end" fill="#1a1a1a" font-weight="normal" >40</text>
<line x1="380.80" y1="161.91" x2="384.60" y2="161.91" stroke="#000" stroke-width="1.3" />
<text x="378.30" y="166.31" font-size="12.6" text-anchor="end" fill="#1a1a1a" font-weight="normal" >50</text>
<line x1="380.80" y1="138.48" x2="384.60" y2="138.48" stroke="#000" stroke-width="1.3" />
<text x="378.30" y="142.88" font-size="12.6" text-anchor="end" fill="#1a1a1a" font-weight="normal" >60</text>
<line x1="380.80" y1="115.05" x2="384.60" y2="115.05" stroke="#000" stroke-width="1.3" />
<text x="378.30" y="119.45" font-size="12.6" text-anchor="end" fill="#1a1a1a" font-weight="normal" >70</text>
<line x1="380.80" y1="91.62" x2="384.60" y2="91.62" stroke="#000" stroke-width="1.3" />
<text x="378.30" y="96.02" font-size="12.6" text-anchor="end" fill="#1a1a1a" font-weight="normal" >80</text>
<line x1="380.80" y1="68.19" x2="384.60" y2="68.19" stroke="#000" stroke-width="1.3" />
<text x="378.30" y="72.59" font-size="12.6" text-anchor="end" fill="#1a1a1a" font-weight="normal" >90</text>
<line x1="380.80" y1="44.76" x2="384.60" y2="44.76" stroke="#000" stroke-width="1.3" />
<text x="378.30" y="49.16" font-size="12.6" text-anchor="end" fill="#1a1a1a" font-weight="normal" >100</text>
<line x1="382.40" y1="243.91" x2="384.60" y2="243.91" stroke="#000" stroke-width="1.3" />
<line x1="382.40" y1="220.48" x2="384.60" y2="220.48" stroke="#000" stroke-width="1.3" />
<line x1="382.40" y1="197.06" x2="384.60" y2="197.06" stroke="#000" stroke-width="1.3" />
<line x1="382.40" y1="173.62" x2="384.60" y2="173.62" stroke="#000" stroke-width="1.3" />
<line x1="382.40" y1="150.19" x2="384.60" y2="150.19" stroke="#000" stroke-width="1.3" />
<line x1="382.40" y1="126.76" x2="384.60" y2="126.76" stroke="#000" stroke-width="1.3" />
<line x1="382.40" y1="103.33" x2="384.60" y2="103.33" stroke="#000" stroke-width="1.3" />
<line x1="382.40" y1="79.91" x2="384.60" y2="79.91" stroke="#000" stroke-width="1.3" />
<line x1="382.40" y1="56.47" x2="384.60" y2="56.47" stroke="#000" stroke-width="1.3" />
<line x1="384.70" y1="243.90" x2="384.70" y2="247.70" stroke="#000" stroke-width="1.3" />
<text x="384.70" y="260.80" font-size="12.6" text-anchor="middle" fill="#1a1a1a" font-weight="normal" >0</text>
<line x1="414.80" y1="243.90" x2="414.80" y2="247.70" stroke="#000" stroke-width="1.3" />
<text x="414.80" y="260.80" font-size="12.6" text-anchor="middle" fill="#1a1a1a" font-weight="normal" >200</text>
<line x1="444.90" y1="243.90" x2="444.90" y2="247.70" stroke="#000" stroke-width="1.3" />
<text x="444.90" y="260.80" font-size="12.6" text-anchor="middle" fill="#1a1a1a" font-weight="normal" >400</text>
<line x1="475.00" y1="243.90" x2="475.00" y2="247.70" stroke="#000" stroke-width="1.3" />
<text x="475.00" y="260.80" font-size="12.6" text-anchor="middle" fill="#1a1a1a" font-weight="normal" >600</text>
<line x1="505.10" y1="243.90" x2="505.10" y2="247.70" stroke="#000" stroke-width="1.3" />
<text x="505.10" y="260.80" font-size="12.6" text-anchor="middle" fill="#1a1a1a" font-weight="normal" >800</text>
<line x1="535.20" y1="243.90" x2="535.20" y2="247.70" stroke="#000" stroke-width="1.3" />
<text x="535.20" y="260.80" font-size="12.6" text-anchor="middle" fill="#1a1a1a" font-weight="normal" >1000</text>
<line x1="399.75" y1="243.90" x2="399.75" y2="246.10" stroke="#000" stroke-width="1.3" />
<line x1="429.85" y1="243.90" x2="429.85" y2="246.10" stroke="#000" stroke-width="1.3" />
<line x1="459.95" y1="243.90" x2="459.95" y2="246.10" stroke="#000" stroke-width="1.3" />
<line x1="490.05" y1="243.90" x2="490.05" y2="246.10" stroke="#000" stroke-width="1.3" />
<line x1="520.15" y1="243.90" x2="520.15" y2="246.10" stroke="#000" stroke-width="1.3" />
<line x1="571.90" y1="243.90" x2="571.90" y2="247.70" stroke="#000" stroke-width="1.3" />
<text x="571.90" y="260.80" font-size="12.6" text-anchor="middle" fill="#1a1a1a" font-weight="normal" >4800</text>
<line x1="606.90" y1="243.90" x2="606.90" y2="247.70" stroke="#000" stroke-width="1.3" />
<text x="606.90" y="260.80" font-size="12.6" text-anchor="middle" fill="#1a1a1a" font-weight="normal" >5000</text>
<line x1="641.90" y1="243.90" x2="641.90" y2="247.70" stroke="#000" stroke-width="1.3" />
<text x="641.90" y="260.80" font-size="12.6" text-anchor="middle" fill="#1a1a1a" font-weight="normal" >5200</text>
<line x1="589.40" y1="243.90" x2="589.40" y2="246.10" stroke="#000" stroke-width="1.3" />
<line x1="624.40" y1="243.90" x2="624.40" y2="246.10" stroke="#000" stroke-width="1.3" />
<text x="513.00" y="276.30" font-size="12.6" text-anchor="middle" fill="#1a1a1a" font-weight="normal" >Current (mA)</text>
<text x="357.60" y="141.20" font-size="12.9" text-anchor="middle" fill="#1a1a1a" transform="rotate(-90 357.60 141.20)">Faradaic Efficiency (%)</text>
<circle cx="583.00" cy="52.60" r="4.5" stroke="#2f3dff" fill="#fff" stroke-width="1.0" />
<line x1="588.40" y1="52.60" x2="590.00" y2="52.60" stroke="#2f3dff" stroke-width="0.6" />
<text x="592.50" y="56.00" font-size="9.9" text-anchor="start" fill="#1a1a1a" font-weight="normal" >Au/IrO<tspan font-style="italic" font-size="0.75em" dy="0.28em">x</tspan></text>
<circle cx="583.00" cy="66.25" r="4.5" stroke="#1a8c80" fill="#fff" stroke-width="1.0" />
<line x1="588.40" y1="66.25" x2="590.00" y2="66.25" stroke="#1a8c80" stroke-width="0.6" />
<text x="592.50" y="69.40" font-size="9.9" text-anchor="start" fill="#1a1a1a" font-weight="normal" >IrO<tspan font-style="italic" font-size="0.75em" dy="0.28em">x</tspan></text>
<circle cx="583.00" cy="79.90" r="4.5" stroke="#ff6b6b" fill="#fff" stroke-width="1.0" />
<line x1="588.40" y1="79.90" x2="590.00" y2="79.90" stroke="#ff6b6b" stroke-width="0.6" />
<text x="592.50" y="82.80" font-size="9.9" text-anchor="start" fill="#1a1a1a" font-weight="normal" >Pt/IrO<tspan font-style="italic" font-size="0.75em" dy="0.28em">x</tspan></text>
<circle cx="583.00" cy="93.55" r="4.5" stroke="#ffb83d" fill="#fff" stroke-width="1.0" />
<line x1="588.40" y1="93.55" x2="590.00" y2="93.55" stroke="#ffb83d" stroke-width="0.6" />
<text x="592.50" y="96.20" font-size="9.9" text-anchor="start" fill="#1a1a1a" font-weight="normal" >Co/IrO<tspan font-style="italic" font-size="0.75em" dy="0.28em">x</tspan></text>
<text x="-0.30" y="292.60" font-size="17" text-anchor="start" fill="#000" font-weight="bold" >c</text>
<path d="M67.53,323.33 L68.43,323.15 L69.43,322.95 L70.53,322.73 L71.73,322.48 L73.02,322.22 L74.39,321.94 L75.84,321.64 L77.37,321.32 L78.96,321.00 L80.61,320.66 L82.32,320.31 L84.08,319.94 L85.89,319.58 L87.73,319.20 L89.61,318.82 L91.51,318.43 L93.44,318.05 L95.38,317.66 L97.34,317.27 L99.30,316.88 L101.26,316.49 L103.22,316.11 L105.16,315.74 L107.09,315.37 L109.00,315.01 L110.87,314.66 L112.72,314.32 L114.52,313.99 L116.28,313.68 L117.99,313.39 L119.67,313.07 L121.35,312.71 L123.04,312.31 L124.72,311.87 L126.40,311.40 L128.08,310.91 L129.76,310.40 L131.45,309.88 L133.13,309.34 L134.81,308.81 L136.49,308.28 L138.17,307.75 L139.86,307.24 L141.54,306.75 L143.22,306.28 L144.90,305.85 L146.58,305.45 L148.27,305.09 L149.95,304.77 L151.63,304.51 L153.31,304.31 L154.99,304.17 L156.68,304.10 L158.36,304.11 L160.04,304.19 L161.72,304.36 L163.40,304.62 L165.09,304.98 L166.77,305.43 L168.45,306.00 L170.13,306.64 L171.81,307.34 L173.50,308.09 L175.18,308.89 L176.86,309.75 L178.54,310.66 L180.22,311.63 L181.91,312.65 L183.59,313.72 L185.27,314.86 L186.95,316.05 L188.63,317.30 L190.32,318.61 L192.00,319.98 L193.68,321.41 L195.36,322.90 L197.04,324.46 L198.73,326.07 L200.41,327.75 L202.09,329.49 L203.77,331.30 L205.45,333.18 L207.14,335.12 L208.82,337.12 L210.50,339.20 L212.18,341.34 L213.86,343.55 L215.55,345.83 L217.23,348.18 L218.91,350.60 L220.62,353.18 L222.38,355.98 L224.18,358.99 L226.03,362.19 L227.90,365.56 L229.81,369.09 L231.74,372.75 L233.68,376.53 L235.64,380.41 L237.60,384.38 L239.56,388.41 L241.52,392.48 L243.46,396.59 L245.39,400.70 L247.29,404.81 L249.17,408.90 L251.01,412.94 L252.82,416.92 L254.58,420.82 L256.29,424.63 L257.94,428.32 L259.53,431.88 L261.06,435.29 L262.51,438.53 L263.88,441.58 L265.17,444.44 L266.37,447.07 L267.47,449.46 L268.47,451.59 L269.37,453.45" fill="none" stroke="#ff6b6b" stroke-width="1.6"/>
<line x1="67.53" y1="319.35" x2="67.53" y2="327.31" stroke="#ff6b6b" stroke-width="1.0" />
<line x1="64.73" y1="319.35" x2="70.33" y2="319.35" stroke="#ff6b6b" stroke-width="1.0" />
<line x1="64.73" y1="327.31" x2="70.33" y2="327.31" stroke="#ff6b6b" stroke-width="1.0" />
<circle cx="67.53" cy="323.33" r="3.9" stroke="#ff6b6b" fill="#fff" stroke-width="1.0" />
<line x1="117.99" y1="306.85" x2="117.99" y2="319.92" stroke="#ff6b6b" stroke-width="1.0" />
<line x1="115.19" y1="306.85" x2="120.79" y2="306.85" stroke="#ff6b6b" stroke-width="1.0" />
<line x1="115.19" y1="319.92" x2="120.79" y2="319.92" stroke="#ff6b6b" stroke-width="1.0" />
<circle cx="117.99" cy="313.39" r="3.9" stroke="#ff6b6b" fill="#fff" stroke-width="1.0" />
<line x1="168.45" y1="300.32" x2="168.45" y2="311.68" stroke="#ff6b6b" stroke-width="1.0" />
<line x1="165.65" y1="300.32" x2="171.25" y2="300.32" stroke="#ff6b6b" stroke-width="1.0" />
<line x1="165.65" y1="311.68" x2="171.25" y2="311.68" stroke="#ff6b6b" stroke-width="1.0" />
<circle cx="168.45" cy="306.00" r="3.9" stroke="#ff6b6b" fill="#fff" stroke-width="1.0" />
<line x1="218.91" y1="345.20" x2="218.91" y2="356.00" stroke="#ff6b6b" stroke-width="1.0" />
<line x1="216.11" y1="345.20" x2="221.71" y2="345.20" stroke="#ff6b6b" stroke-width="1.0" />
<line x1="216.11" y1="356.00" x2="221.71" y2="356.00" stroke="#ff6b6b" stroke-width="1.0" />
<circle cx="218.91" cy="350.60" r="3.9" stroke="#ff6b6b" fill="#fff" stroke-width="1.0" />
<line x1="269.37" y1="448.33" x2="269.37" y2="458.56" stroke="#ff6b6b" stroke-width="1.0" />
<line x1="266.57" y1="448.33" x2="272.17" y2="448.33" stroke="#ff6b6b" stroke-width="1.0" />
<line x1="266.57" y1="458.56" x2="272.17" y2="458.56" stroke="#ff6b6b" stroke-width="1.0" />
<circle cx="269.37" cy="453.45" r="3.9" stroke="#ff6b6b" fill="#fff" stroke-width="1.0" />
<rect x="42.30" y="293.00" width="252.30" height="198.80" fill="none" stroke="#000" stroke-width="1.4"/>
<line x1="38.30" y1="491.80" x2="42.30" y2="491.80" stroke="#000" stroke-width="1.3" />
<text x="36.30" y="496.10" font-size="12.4" text-anchor="end" fill="#1a1a1a" font-weight="normal" >30</text>
<line x1="38.30" y1="463.39" x2="42.30" y2="463.39" stroke="#000" stroke-width="1.3" />
<text x="36.30" y="467.69" font-size="12.4" text-anchor="end" fill="#1a1a1a" font-weight="normal" >40</text>
<line x1="38.30" y1="434.98" x2="42.30" y2="434.98" stroke="#000" stroke-width="1.3" />
<text x="36.30" y="439.28" font-size="12.4" text-anchor="end" fill="#1a1a1a" font-weight="normal" >50</text>
<line x1="38.30" y1="406.57" x2="42.30" y2="406.57" stroke="#000" stroke-width="1.3" />
<text x="36.30" y="410.87" font-size="12.4" text-anchor="end" fill="#1a1a1a" font-weight="normal" >60</text>
<line x1="38.30" y1="378.16" x2="42.30" y2="378.16" stroke="#000" stroke-width="1.3" />
<text x="36.30" y="382.46" font-size="12.4" text-anchor="end" fill="#1a1a1a" font-weight="normal" >70</text>
<line x1="38.30" y1="349.75" x2="42.30" y2="349.75" stroke="#000" stroke-width="1.3" />
<text x="36.30" y="354.05" font-size="12.4" text-anchor="end" fill="#1a1a1a" font-weight="normal" >80</text>
<line x1="38.30" y1="321.34" x2="42.30" y2="321.34" stroke="#000" stroke-width="1.3" />
<text x="36.30" y="325.64" font-size="12.4" text-anchor="end" fill="#1a1a1a" font-weight="normal" >90</text>
<line x1="38.30" y1="292.93" x2="42.30" y2="292.93" stroke="#000" stroke-width="1.3" />
<text x="36.30" y="297.23" font-size="12.4" text-anchor="end" fill="#1a1a1a" font-weight="normal" >100</text>
<line x1="40.10" y1="477.60" x2="42.30" y2="477.60" stroke="#000" stroke-width="1.3" />
<line x1="40.10" y1="449.19" x2="42.30" y2="449.19" stroke="#000" stroke-width="1.3" />
<line x1="40.10" y1="420.77" x2="42.30" y2="420.77" stroke="#000" stroke-width="1.3" />
<line x1="40.10" y1="392.37" x2="42.30" y2="392.37" stroke="#000" stroke-width="1.3" />
<line x1="40.10" y1="363.95" x2="42.30" y2="363.95" stroke="#000" stroke-width="1.3" />
<line x1="40.10" y1="335.54" x2="42.30" y2="335.54" stroke="#000" stroke-width="1.3" />
<line x1="40.10" y1="307.13" x2="42.30" y2="307.13" stroke="#000" stroke-width="1.3" />
<text x="55.20" y="504.80" font-size="12.0" text-anchor="start" fill="#1a1a1a" font-weight="normal" ><tspan dy="0">IrO</tspan><tspan font-size="8.7" font-style="italic" dy="3.3">x</tspan></text>
<text x="95.00" y="504.80" font-size="12.0" text-anchor="start" fill="#1a1a1a" font-weight="normal" ><tspan dy="0">Pt</tspan><tspan font-size="8.3" dy="3.3">1</tspan><tspan dy="-3.3">Ir</tspan><tspan font-size="8.3" dy="3.3">4</tspan><tspan dy="-3.3">O</tspan><tspan font-size="8.7" font-style="italic" dy="3.3">x</tspan></text>
<text x="144.10" y="504.80" font-size="12.0" text-anchor="start" fill="#1a1a1a" font-weight="normal" ><tspan dy="0">Pt</tspan><tspan font-size="8.3" dy="3.3">1</tspan><tspan dy="-3.3">Ir</tspan><tspan font-size="8.3" dy="3.3">3</tspan><tspan dy="-3.3">O</tspan><tspan font-size="8.7" font-style="italic" dy="3.3">x</tspan></text>
<text x="196.20" y="504.80" font-size="12.0" text-anchor="start" fill="#1a1a1a" font-weight="normal" ><tspan dy="0">Pt</tspan><tspan font-size="8.3" dy="3.3">7</tspan><tspan dy="-3.3">Ir</tspan><tspan font-size="8.3" dy="3.3">3</tspan><tspan dy="-3.3">O</tspan><tspan font-size="8.7" font-style="italic" dy="3.3">x</tspan></text>
<text x="256.00" y="504.80" font-size="12.0" text-anchor="start" fill="#1a1a1a" font-weight="normal" ><tspan dy="0">PtO</tspan><tspan font-size="8.7" font-style="italic" dy="3.3">x</tspan></text>
<text x="14.00" y="392.00" font-size="12.3" text-anchor="middle" fill="#1a1a1a" transform="rotate(-90 14.00 392.00)">Faradaic Efficiency (%)</text>
<text x="336.50" y="292.50" font-size="17" text-anchor="start" fill="#000" font-weight="bold" >d</text>
<polygon points="493.10,382.16 511.07,395.04 504.21,415.88 481.99,415.88 475.13,395.04" fill="none" stroke="#b8b8b8" stroke-width="0.7"/>
<polygon points="493.10,363.52 529.05,389.28 515.32,430.96 470.88,430.96 457.15,389.28" fill="none" stroke="#b8b8b8" stroke-width="0.7"/>
<polygon points="493.10,344.88 547.02,383.52 526.43,446.04 459.77,446.04 439.18,383.52" fill="none" stroke="#b8b8b8" stroke-width="0.7"/>
<polygon points="493.10,326.24 565.00,377.76 537.54,461.12 448.66,461.12 421.20,377.76" fill="none" stroke="#b8b8b8" stroke-width="0.7"/>
<polygon points="493.10,307.60 582.97,372.00 548.65,476.20 437.55,476.20 403.23,372.00" fill="none" stroke="#b8b8b8" stroke-width="0.7"/>
<line x1="493.10" y1="400.80" x2="493.10" y2="307.60" stroke="#000" stroke-width="1.6" />
<line x1="493.10" y1="400.80" x2="582.97" y2="372.00" stroke="#000" stroke-width="1.6" />
<line x1="493.10" y1="400.80" x2="548.65" y2="476.20" stroke="#000" stroke-width="1.6" />
<line x1="493.10" y1="400.80" x2="437.55" y2="476.20" stroke="#000" stroke-width="1.6" />
<line x1="493.10" y1="400.80" x2="403.23" y2="372.00" stroke="#000" stroke-width="1.6" />
<text x="491.20" y="386.20" font-size="11.8" text-anchor="end" fill="#222" font-weight="normal" >0</text>
<text x="491.20" y="367.46" font-size="11.8" text-anchor="end" fill="#222" font-weight="normal" >1</text>
<text x="491.20" y="348.72" font-size="11.8" text-anchor="end" fill="#222" font-weight="normal" >2</text>
<text x="491.20" y="329.98" font-size="11.8" text-anchor="end" fill="#222" font-weight="normal" >3</text>
<text x="491.20" y="311.24" font-size="11.8" text-anchor="end" fill="#222" font-weight="normal" >4</text>
<text x="492.00" y="405.00" font-size="11.8" text-anchor="end" fill="#222" font-weight="normal" >-1</text>
<text x="510.40" y="391.00" font-size="11.8" text-anchor="middle" fill="#222" font-weight="normal" >0</text>
<text x="546.20" y="379.80" font-size="11.8" text-anchor="middle" fill="#222" font-weight="normal" >50</text>
<text x="512.40" y="423.80" font-size="11.8" text-anchor="middle" fill="#222" font-weight="normal" >0</text>
<text x="537.60" y="453.60" font-size="11.8" text-anchor="middle" fill="#222" font-weight="normal" >50</text>
<text x="492.50" y="419.00" font-size="11.8" text-anchor="middle" fill="#222" font-weight="normal" >0</text>
<text x="481.80" y="436.20" font-size="11.8" text-anchor="middle" fill="#222" font-weight="normal" >50</text>
<text x="472.70" y="452.70" font-size="11.8" text-anchor="middle" fill="#222" font-weight="normal" >100</text>
<text x="459.90" y="469.00" font-size="11.8" text-anchor="middle" fill="#222" font-weight="normal" >150</text>
<text x="478.50" y="409.50" font-size="11.8" text-anchor="middle" fill="#222" font-weight="normal" >0</text>
<text x="438.90" y="395.90" font-size="11.8" text-anchor="middle" fill="#222" font-weight="normal" >1000</text>
<polygon points="493.10,315.80 581.36,372.52 546.76,473.64 439.55,473.49 410.95,374.48" fill="rgba(255,100,100,0.21)" stroke="#ff7474" stroke-width="1.5" stroke-linejoin="miter"/>
<rect x="491.70" y="314.40" width="2.8" height="2.8" fill="#ff7474"/>
<rect x="579.96" y="371.12" width="2.8" height="2.8" fill="#ff7474"/>
<rect x="545.36" y="472.24" width="2.8" height="2.8" fill="#ff7474"/>
<rect x="438.15" y="472.09" width="2.8" height="2.8" fill="#ff7474"/>
<rect x="409.55" y="373.08" width="2.8" height="2.8" fill="#ff7474"/>
<polygon points="493.10,381.04 566.26,377.36 539.20,463.38 486.43,409.85 478.00,395.96" fill="rgba(0,150,150,0.255)" stroke="#2090a4" stroke-width="1.05" stroke-linejoin="miter"/>
<rect x="491.70" y="379.64" width="2.8" height="2.8" fill="#2090a4"/>
<rect x="564.86" y="375.96" width="2.8" height="2.8" fill="#2090a4"/>
<rect x="537.80" y="461.98" width="2.8" height="2.8" fill="#2090a4"/>
<rect x="485.03" y="408.45" width="2.8" height="2.8" fill="#2090a4"/>
<rect x="476.60" y="394.56" width="2.8" height="2.8" fill="#2090a4"/>
<polygon points="493.10,375.45 526.17,390.20 505.32,417.39 481.99,415.88 473.33,394.46" fill="rgba(255,200,100,0.27)" stroke="#e8c060" stroke-width="1.1" stroke-linejoin="miter"/>
<rect x="491.70" y="374.05" width="2.8" height="2.8" fill="#e8c060"/>
<rect x="524.77" y="388.80" width="2.8" height="2.8" fill="#e8c060"/>
<rect x="503.92" y="415.99" width="2.8" height="2.8" fill="#e8c060"/>
<rect x="480.59" y="414.48" width="2.8" height="2.8" fill="#e8c060"/>
<rect x="471.93" y="393.06" width="2.8" height="2.8" fill="#e8c060"/>
<polygon points="493.10,348.61 582.97,372.00 548.65,476.20 462.33,442.57 481.42,397.06" fill="rgba(100,100,255,0.33)" stroke="#3344ff" stroke-width="1.55" stroke-linejoin="miter"/>
<rect x="491.70" y="347.21" width="2.8" height="2.8" fill="#3344ff"/>
<rect x="581.57" y="370.60" width="2.8" height="2.8" fill="#3344ff"/>
<rect x="547.25" y="474.80" width="2.8" height="2.8" fill="#3344ff"/>
<rect x="460.93" y="441.17" width="2.8" height="2.8" fill="#3344ff"/>
<rect x="480.02" y="395.66" width="2.8" height="2.8" fill="#3344ff"/>
<text x="398.40" y="383.30" font-size="11.8" text-anchor="middle" fill="#111" font-weight="normal" >2000</text>
<text x="447.60" y="486.50" font-size="11.8" text-anchor="middle" fill="#111" font-weight="normal" >200</text>
<text x="564.40" y="483.80" font-size="11.8" text-anchor="middle" fill="#111" font-weight="normal" >100</text>
<text x="574.90" y="368.00" font-size="11.8" text-anchor="start" fill="#111" font-weight="normal" >100 FE (%)</text>
<text x="493.00" y="295.40" font-size="11.8" text-anchor="middle" fill="#111" font-weight="normal" >Generation rate (mmol/cm<tspan font-size="0.7em" dy="-4">2</tspan><tspan dy="4">/h)</tspan></text>
<text x="393.40" y="362.60" font-size="11.8" text-anchor="middle" fill="#111" font-weight="normal" >Yield (mmol)</text>
<text x="439.50" y="499.60" font-size="11.8" text-anchor="middle" fill="#111" font-weight="normal" >Partial current density (mA/cm<tspan font-size="0.7em" dy="-4">2</tspan><tspan dy="4">)</tspan></text>
<text x="532.50" y="499.30" font-size="11.8" text-anchor="start" fill="#111" font-weight="normal" >Product Specificity(%)</text>
<rect x="565.1" y="415.50" width="14.6" height="11.3" fill="#ffdede"/>
<text x="583.40" y="424.60" font-size="10.8" text-anchor="start" fill="#111" font-weight="normal" >This work</text>
<rect x="565.1" y="428.25" width="14.6" height="11.3" fill="#bee3e2"/>
<text x="583.40" y="437.35" font-size="10.8" text-anchor="start" fill="#111" font-weight="normal" >Nat. Commun. 2021</text>
<rect x="565.1" y="441.00" width="14.6" height="11.3" fill="#fff0d8"/>
<text x="583.40" y="450.10" font-size="10.8" text-anchor="start" fill="#111" font-weight="normal" >Angew. Chem. 2021</text>
<rect x="565.1" y="453.75" width="14.6" height="11.3" fill="#ccccff"/>
<text x="583.40" y="462.85" font-size="10.8" text-anchor="start" fill="#111" font-weight="normal" >Nat. Catal. 2022</text>
<text x="-0.80" y="525.50" font-size="17" text-anchor="start" fill="#000" font-weight="bold" >e</text>
<clipPath id="ce"><rect x="39.1" y="530.6" width="604.5" height="188.39999999999998"/></clipPath>
<g clip-path="url(#ce)">
<circle cx="63.28" cy="537.80" r="4.15" stroke="#ff7b7b" fill="none" stroke-width="0.95" />
<circle cx="87.46" cy="542.50" r="4.15" stroke="#ff7b7b" fill="none" stroke-width="0.95" />
<circle cx="111.64" cy="539.00" r="4.15" stroke="#ff7b7b" fill="none" stroke-width="0.95" />
<circle cx="135.82" cy="536.00" r="4.15" stroke="#ff7b7b" fill="none" stroke-width="0.95" />
<circle cx="160.00" cy="545.30" r="4.15" stroke="#ff7b7b" fill="none" stroke-width="0.95" />
<circle cx="184.18" cy="536.70" r="4.15" stroke="#ff7b7b" fill="none" stroke-width="0.95" />
<circle cx="208.36" cy="543.00" r="4.15" stroke="#ff7b7b" fill="none" stroke-width="0.95" />
<circle cx="232.54" cy="547.70" r="4.15" stroke="#ff7b7b" fill="none" stroke-width="0.95" />
<circle cx="256.72" cy="543.00" r="4.15" stroke="#ff7b7b" fill="none" stroke-width="0.95" />
<circle cx="280.90" cy="535.50" r="4.15" stroke="#ff7b7b" fill="none" stroke-width="0.95" />
<circle cx="305.08" cy="541.80" r="4.15" stroke="#ff7b7b" fill="none" stroke-width="0.95" />
<circle cx="329.26" cy="539.70" r="4.15" stroke="#ff7b7b" fill="none" stroke-width="0.95" />
<circle cx="353.44" cy="543.00" r="4.15" stroke="#ff7b7b" fill="none" stroke-width="0.95" />
<circle cx="377.62" cy="538.30" r="4.15" stroke="#ff7b7b" fill="none" stroke-width="0.95" />
<circle cx="401.80" cy="539.50" r="4.15" stroke="#ff7b7b" fill="none" stroke-width="0.95" />
<circle cx="425.98" cy="541.40" r="4.15" stroke="#ff7b7b" fill="none" stroke-width="0.95" />
<circle cx="450.16" cy="542.50" r="4.15" stroke="#ff7b7b" fill="none" stroke-width="0.95" />
<circle cx="474.34" cy="539.50" r="4.15" stroke="#ff7b7b" fill="none" stroke-width="0.95" />
<circle cx="498.52" cy="543.20" r="4.15" stroke="#ff7b7b" fill="none" stroke-width="0.95" />
<circle cx="522.70" cy="539.00" r="4.15" stroke="#ff7b7b" fill="none" stroke-width="0.95" />
<circle cx="546.88" cy="540.70" r="4.15" stroke="#ff7b7b" fill="none" stroke-width="0.95" />
<circle cx="571.06" cy="542.10" r="4.15" stroke="#ff7b7b" fill="none" stroke-width="0.95" />
<circle cx="595.24" cy="534.30" r="4.15" stroke="#ff7b7b" fill="none" stroke-width="0.95" />
<circle cx="619.42" cy="542.50" r="4.15" stroke="#ff7b7b" fill="none" stroke-width="0.95" />
<circle cx="643.60" cy="545.30" r="4.15" stroke="#ff7b7b" fill="none" stroke-width="0.95" />
</g>
<g clip-path="url(#ce)">
<path d="M39.80,676.30 L40.24,675.95 L40.82,675.47 L41.52,674.89 L42.31,674.27 L43.15,673.62 L44.00,673.00 L44.90,672.35 L45.87,671.64 L46.89,670.92 L47.93,670.22 L48.98,669.60 L50.00,669.10 L50.98,668.74 L51.95,668.49 L52.91,668.31 L53.90,668.18 L54.92,668.05 L56.00,667.90 L57.24,667.72 L58.64,667.54 L60.08,667.38 L61.43,667.22 L62.58,667.09 L63.40,667.00" fill="none" stroke="#000" stroke-width="1.9" stroke-linejoin="round" stroke-linecap="round"/>
<path d="M63.40,679.00 L63.44,677.90 L63.47,676.29 L63.51,674.43 L63.61,672.58 L63.80,671.01 L64.10,670.00 L64.53,669.61 L65.06,669.63 L65.67,669.94 L66.36,670.40 L67.10,670.86 L67.90,671.20 L68.77,671.44 L69.74,671.70 L70.76,671.97 L71.82,672.23 L72.87,672.48 L73.90,672.70 L74.89,672.90 L75.86,673.10 L76.83,673.28 L77.81,673.43 L78.83,673.54 L79.90,673.60 L81.11,673.58 L82.48,673.49 L83.88,673.36 L85.19,673.21 L86.30,673.08 L87.10,673.00" fill="none" stroke="#000" stroke-width="1.9" stroke-linejoin="round" stroke-linecap="round"/>
<path d="M87.30,678.30 L87.51,677.84 L87.77,677.20 L88.10,676.44 L88.49,675.64 L88.96,674.87 L89.50,674.20 L90.12,673.62 L90.82,673.07 L91.59,672.56 L92.43,672.07 L93.34,671.62 L94.30,671.20 L95.31,670.82 L96.38,670.47 L97.51,670.15 L98.72,669.87 L100.01,669.62 L101.40,669.40 L103.04,669.22 L104.95,669.09 L106.94,668.99 L108.84,668.91 L110.45,668.85 L111.60,668.80" fill="none" stroke="#000" stroke-width="1.9" stroke-linejoin="round" stroke-linecap="round"/>
<path d="M111.30,679.20 L112.21,679.03 L113.50,678.80 L115.01,678.53 L116.57,678.22 L118.02,677.91 L119.20,677.60 L120.10,677.28 L120.84,676.92 L121.48,676.56 L122.04,676.20 L122.57,675.87 L123.10,675.60 L123.54,675.39 L123.85,675.23 L124.12,675.11 L124.46,674.99 L124.99,674.86 L125.80,674.70 L127.05,674.51 L128.68,674.31 L130.49,674.10 L132.28,673.88 L133.85,673.64 L135.00,673.40 L135.68,673.17 L136.04,672.97 L136.19,672.76 L136.21,672.50 L136.22,672.16 L136.30,671.70 L136.42,671.08 L136.50,670.32 L136.56,669.48 L136.62,668.61 L136.73,667.80 L136.90,667.10 L137.13,666.49 L137.39,665.93 L137.69,665.41 L138.04,664.95 L138.44,664.54 L138.90,664.20 L139.36,663.93 L139.81,663.72 L140.31,663.57 L140.93,663.47 L141.74,663.42 L142.80,663.40 L144.22,663.46 L145.97,663.60 L147.91,663.79 L149.89,663.99 L151.77,664.13 L153.40,664.20 L154.84,664.16 L156.23,664.05 L157.51,663.90 L158.65,663.74 L159.59,663.59 L160.30,663.50" fill="none" stroke="#000" stroke-width="1.9" stroke-linejoin="round" stroke-linecap="round"/>
<path d="M160.00,679.20 L160.57,678.57 L161.37,677.66 L162.31,676.60 L163.32,675.51 L164.31,674.50 L165.20,673.70 L166.02,673.08 L166.85,672.54 L167.66,672.09 L168.44,671.73 L169.16,671.47 L169.80,671.30 L170.34,671.24 L170.79,671.27 L171.18,671.40 L171.56,671.62 L171.95,671.92 L172.40,672.30 L172.92,672.82 L173.50,673.51 L174.09,674.28 L174.67,675.06 L175.22,675.75 L175.70,676.30 L176.09,676.70 L176.39,677.01 L176.66,677.24 L176.94,677.41 L177.27,677.53 L177.70,677.60 L178.26,677.59 L178.91,677.48 L179.61,677.31 L180.33,677.13 L181.00,676.98 L181.60,676.90 L182.14,676.86 L182.65,676.81 L183.12,676.80 L183.55,676.84 L183.91,676.96 L184.20,677.20 L184.38,677.66 L184.47,678.35 L184.49,679.12 L184.49,679.83 L184.48,680.34 L184.50,680.50 L184.52,680.23 L184.51,679.61 L184.50,678.80 L184.52,677.92 L184.61,677.11 L184.80,676.50 L185.11,676.10 L185.53,675.79 L186.01,675.54 L186.52,675.35 L187.03,675.17 L187.50,675.00 L187.92,674.81 L188.32,674.61 L188.72,674.43 L189.13,674.30 L189.59,674.25 L190.10,674.30 L190.69,674.46 L191.35,674.70 L192.04,675.02 L192.75,675.41 L193.45,675.84 L194.10,676.30 L194.71,676.85 L195.29,677.50 L195.85,678.19 L196.41,678.88 L196.99,679.50 L197.60,680.00 L198.20,680.36 L198.79,680.63 L199.38,680.82 L200.03,680.99 L200.75,681.13 L201.60,681.30 L202.67,681.48 L203.97,681.66 L205.35,681.83 L206.67,681.98 L207.80,682.11 L208.60,682.20" fill="none" stroke="#000" stroke-width="1.9" stroke-linejoin="round" stroke-linecap="round"/>
<path d="M208.10,677.60 L208.29,677.08 L208.52,676.33 L208.81,675.46 L209.17,674.56 L209.59,673.70 L210.10,673.00 L210.69,672.43 L211.37,671.93 L212.11,671.48 L212.92,671.08 L213.79,670.72 L214.70,670.40 L215.62,670.12 L216.56,669.90 L217.55,669.72 L218.64,669.57 L219.88,669.44 L221.30,669.30 L223.10,669.16 L225.29,669.04 L227.61,668.93 L229.85,668.84 L231.76,668.76 L233.10,668.70" fill="none" stroke="#000" stroke-width="1.9" stroke-linejoin="round" stroke-linecap="round"/>
<path d="M232.40,679.20 L233.05,678.59 L233.94,677.73 L234.99,676.72 L236.14,675.65 L237.30,674.61 L238.40,673.70 L239.45,672.89 L240.53,672.09 L241.61,671.33 L242.71,670.61 L243.81,669.96 L244.90,669.40 L246.01,668.93 L247.14,668.53 L248.28,668.21 L249.39,667.93 L250.47,667.70 L251.50,667.50 L252.46,667.33 L253.37,667.22 L254.24,667.14 L255.09,667.10 L255.94,667.09 L256.80,667.10 L257.67,667.13 L258.54,667.19 L259.40,667.27 L260.26,667.38 L261.13,667.52 L262.00,667.70 L262.86,667.93 L263.71,668.23 L264.57,668.55 L265.44,668.87 L266.35,669.17 L267.30,669.40 L268.33,669.54 L269.42,669.62 L270.55,669.66 L271.68,669.71 L272.77,669.81 L273.80,670.00 L274.80,670.30 L275.80,670.67 L276.76,671.10 L277.66,671.54 L278.45,671.95 L279.10,672.30 L279.57,672.66 L279.88,673.08 L280.08,673.47 L280.23,673.76 L280.39,673.86 L280.60,673.70 L280.85,673.16 L281.09,672.29 L281.32,671.24 L281.58,670.14 L281.87,669.15 L282.20,668.40 L282.55,667.88 L282.90,667.47 L283.28,667.17 L283.72,666.96 L284.25,666.84 L284.90,666.80 L285.72,666.89 L286.70,667.12 L287.77,667.44 L288.86,667.79 L289.90,668.13 L290.80,668.40 L291.56,668.57 L292.24,668.68 L292.87,668.77 L293.47,668.90 L294.07,669.09 L294.70,669.40 L295.33,669.87 L295.93,670.48 L296.54,671.16 L297.18,671.84 L297.89,672.48 L298.70,673.00 L299.71,673.41 L300.92,673.77 L302.20,674.08 L303.42,674.33 L304.46,674.54 L305.20,674.70" fill="none" stroke="#000" stroke-width="1.9" stroke-linejoin="round" stroke-linecap="round"/>
<path d="M305.20,678.20 L306.19,678.12 L307.54,678.01 L309.14,677.88 L310.90,677.72 L312.68,677.53 L314.40,677.30 L316.09,677.00 L317.85,676.63 L319.65,676.22 L321.45,675.83 L323.21,675.47 L324.90,675.20 L326.51,675.03 L328.06,674.92 L329.58,674.86 L331.08,674.82 L332.58,674.78 L334.10,674.70 L335.62,674.59 L337.12,674.48 L338.62,674.36 L340.14,674.24 L341.69,674.12 L343.30,674.00 L345.10,673.88 L347.09,673.74 L349.12,673.61 L351.03,673.48 L352.64,673.38 L353.80,673.30" fill="none" stroke="#000" stroke-width="1.9" stroke-linejoin="round" stroke-linecap="round"/>
<path d="M353.20,678.20 L353.49,677.99 L353.84,677.70 L354.29,677.35 L354.86,676.98 L355.58,676.62 L356.50,676.30 L357.64,676.02 L358.97,675.75 L360.47,675.49 L362.08,675.23 L363.77,674.97 L365.50,674.70 L367.42,674.44 L369.60,674.19 L371.86,673.94 L374.01,673.67 L375.89,673.37 L377.30,673.00 L378.09,672.55 L378.35,672.01 L378.34,671.44 L378.28,670.87 L378.42,670.34 L379.00,669.90 L379.99,669.56 L381.20,669.29 L382.60,669.06 L384.18,668.85 L385.92,668.64 L387.80,668.40 L390.05,668.12 L392.75,667.81 L395.60,667.51 L398.33,667.22 L400.66,666.98 L402.30,666.80" fill="none" stroke="#000" stroke-width="1.9" stroke-linejoin="round" stroke-linecap="round"/>
<path d="M401.60,678.90 L402.54,679.04 L403.86,679.26 L405.41,679.50 L407.07,679.73 L408.71,679.91 L410.20,680.00 L411.56,679.99 L412.89,679.90 L414.19,679.77 L415.49,679.60 L416.79,679.40 L418.10,679.20 L419.50,679.00 L421.00,678.79 L422.51,678.56 L423.91,678.29 L425.11,677.97 L426.00,677.60 L426.45,677.12 L426.50,676.53 L426.34,675.89 L426.18,675.26 L426.20,674.71 L426.60,674.30 L427.43,674.04 L428.53,673.90 L429.83,673.84 L431.20,673.81 L432.56,673.77 L433.80,673.70 L434.90,673.61 L435.93,673.53 L436.94,673.45 L437.99,673.35 L439.13,673.20 L440.40,673.00 L441.95,672.69 L443.76,672.30 L445.66,671.86 L447.47,671.43 L449.01,671.06 L450.10,670.80" fill="none" stroke="#000" stroke-width="1.9" stroke-linejoin="round" stroke-linecap="round"/>
<path d="M450.50,662.10 L450.93,662.43 L451.50,662.89 L452.19,663.44 L452.97,664.02 L453.81,664.59 L454.70,665.10 L455.66,665.55 L456.73,665.98 L457.86,666.39 L459.02,666.81 L460.18,667.24 L461.30,667.70 L462.39,668.20 L463.49,668.74 L464.59,669.30 L465.67,669.84 L466.75,670.35 L467.80,670.80 L468.88,671.25 L470.01,671.73 L471.12,672.17 L472.17,672.51 L473.08,672.68 L473.80,672.60 L474.27,672.14 L474.51,671.31 L474.62,670.32 L474.69,669.33 L474.82,668.53 L475.10,668.10 L475.50,668.07 L475.93,668.30 L476.43,668.73 L476.99,669.26 L477.64,669.85 L478.40,670.40 L479.31,670.99 L480.37,671.68 L481.52,672.41 L482.70,673.13 L483.85,673.78 L484.90,674.30 L485.82,674.68 L486.66,674.96 L487.46,675.17 L488.29,675.34 L489.18,675.47 L490.20,675.60 L491.44,675.73 L492.89,675.84 L494.40,675.93 L495.86,675.98 L497.14,675.97 L498.10,675.90 L498.61,675.73 L498.73,675.47 L498.67,675.16 L498.63,674.83 L498.80,674.53 L499.40,674.30 L500.42,674.15 L501.70,674.04 L503.21,673.96 L504.89,673.89 L506.70,673.81 L508.60,673.70 L510.82,673.56 L513.43,673.39 L516.18,673.21 L518.79,673.04 L521.02,672.90 L522.60,672.80" fill="none" stroke="#000" stroke-width="1.9" stroke-linejoin="round" stroke-linecap="round"/>
<path d="M522.90,680.00 L524.18,679.96 L525.93,679.90 L528.02,679.82 L530.28,679.75 L532.56,679.67 L534.70,679.60 L536.89,679.53 L539.28,679.45 L541.69,679.38 L543.93,679.30 L545.83,679.24 L547.20,679.20" fill="none" stroke="#000" stroke-width="1.9" stroke-linejoin="round" stroke-linecap="round"/>
<path d="M547.20,674.30 L547.51,674.00 L547.89,673.56 L548.36,673.06 L548.94,672.54 L549.65,672.07 L550.50,671.70 L551.54,671.46 L552.74,671.30 L554.08,671.19 L555.50,671.10 L556.95,670.98 L558.40,670.80 L559.92,670.54 L561.57,670.21 L563.25,669.86 L564.88,669.53 L566.36,669.26 L567.60,669.10 L568.60,669.07 L569.44,669.15 L570.12,669.29 L570.69,669.46 L571.14,669.61 L571.50,669.70" fill="none" stroke="#000" stroke-width="1.9" stroke-linejoin="round" stroke-linecap="round"/>
<path d="M571.50,678.20 L571.74,677.85 L572.03,677.36 L572.39,676.78 L572.84,676.18 L573.41,675.63 L574.10,675.20 L574.88,674.89 L575.71,674.63 L576.66,674.43 L577.77,674.27 L579.10,674.13 L580.70,674.00 L582.82,673.89 L585.46,673.82 L588.31,673.77 L591.08,673.74 L593.44,673.72 L595.10,673.70" fill="none" stroke="#000" stroke-width="1.9" stroke-linejoin="round" stroke-linecap="round"/>
<path d="M595.30,678.50 L596.04,678.30 L596.96,678.03 L598.10,677.71 L599.49,677.36 L601.14,677.02 L603.10,676.70 L605.41,676.39 L608.07,676.05 L610.99,675.71 L614.12,675.41 L617.38,675.16 L620.70,675.00 L624.40,674.95 L628.61,674.99 L632.95,675.09 L637.04,675.22 L640.52,675.33 L643.00,675.40" fill="none" stroke="#000" stroke-width="1.9" stroke-linejoin="round" stroke-linecap="round"/>
<line x1="256.80" y1="667.10" x2="256.80" y2="675.60" stroke="#000" stroke-width="1.5" />
<line x1="378.60" y1="669.80" x2="378.60" y2="678.20" stroke="#000" stroke-width="1.5" />
<line x1="426.60" y1="674.30" x2="426.60" y2="683.50" stroke="#000" stroke-width="1.5" />
<line x1="184.50" y1="676.80" x2="184.50" y2="680.50" stroke="#000" stroke-width="1.5" />
<path d="M450.5,662.1 L454.7,665.1 L461.3,667.7 L467.8,670.8 L473.8,672.6" fill="none" stroke="#000" stroke-width="2.6"/>
<path d="M547.6,674 L550.5,671.7 L558.4,670.5 L567.6,668.6 L571.5,669.4" fill="none" stroke="#000" stroke-width="3.1"/>
<path d="M596,678.0 L603.1,676.5 L620.7,675.0 L643,675.2" fill="none" stroke="#000" stroke-width="3.2"/>
</g>
<rect x="39.10" y="530.60" width="604.50" height="188.40" fill="none" stroke="#000" stroke-width="1.4"/>
<line x1="34.10" y1="719.00" x2="39.10" y2="719.00" stroke="#000" stroke-width="1.3" />
<text x="30.60" y="723.30" font-size="12.4" text-anchor="end" fill="#1a1a1a" font-weight="normal" >2</text>
<line x1="34.10" y1="656.20" x2="39.10" y2="656.20" stroke="#000" stroke-width="1.3" />
<text x="30.60" y="660.50" font-size="12.4" text-anchor="end" fill="#1a1a1a" font-weight="normal" >3</text>
<line x1="34.10" y1="593.40" x2="39.10" y2="593.40" stroke="#000" stroke-width="1.3" />
<text x="30.60" y="597.70" font-size="12.4" text-anchor="end" fill="#1a1a1a" font-weight="normal" >4</text>
<line x1="34.10" y1="530.60" x2="39.10" y2="530.60" stroke="#000" stroke-width="1.3" />
<text x="30.60" y="534.90" font-size="12.4" text-anchor="end" fill="#1a1a1a" font-weight="normal" >5</text>
<line x1="36.50" y1="687.60" x2="39.10" y2="687.60" stroke="#000" stroke-width="1.3" />
<line x1="36.50" y1="624.80" x2="39.10" y2="624.80" stroke="#000" stroke-width="1.3" />
<line x1="36.50" y1="562.00" x2="39.10" y2="562.00" stroke="#000" stroke-width="1.3" />
<line x1="638.60" y1="719.00" x2="643.60" y2="719.00" stroke="#000" stroke-width="1.3" />
<text x="650.30" y="723.30" font-size="12.4" text-anchor="start" fill="#ff7b7b" font-weight="normal" >0</text>
<line x1="638.60" y1="681.32" x2="643.60" y2="681.32" stroke="#000" stroke-width="1.3" />
<text x="650.30" y="685.62" font-size="12.4" text-anchor="start" fill="#ff7b7b" font-weight="normal" >20</text>
<line x1="638.60" y1="643.64" x2="643.60" y2="643.64" stroke="#000" stroke-width="1.3" />
<text x="650.30" y="647.94" font-size="12.4" text-anchor="start" fill="#ff7b7b" font-weight="normal" >40</text>
<line x1="638.60" y1="605.96" x2="643.60" y2="605.96" stroke="#000" stroke-width="1.3" />
<text x="650.30" y="610.26" font-size="12.4" text-anchor="start" fill="#ff7b7b" font-weight="normal" >60</text>
<line x1="638.60" y1="568.28" x2="643.60" y2="568.28" stroke="#000" stroke-width="1.3" />
<text x="650.30" y="572.58" font-size="12.4" text-anchor="start" fill="#ff7b7b" font-weight="normal" >80</text>
<line x1="638.60" y1="530.60" x2="643.60" y2="530.60" stroke="#000" stroke-width="1.3" />
<text x="650.30" y="534.90" font-size="12.4" text-anchor="start" fill="#ff7b7b" font-weight="normal" >100</text>
<line x1="641.00" y1="700.16" x2="643.60" y2="700.16" stroke="#000" stroke-width="1.3" />
<line x1="641.00" y1="662.48" x2="643.60" y2="662.48" stroke="#000" stroke-width="1.3" />
<line x1="641.00" y1="624.80" x2="643.60" y2="624.80" stroke="#000" stroke-width="1.3" />
<line x1="641.00" y1="587.12" x2="643.60" y2="587.12" stroke="#000" stroke-width="1.3" />
<line x1="641.00" y1="549.44" x2="643.60" y2="549.44" stroke="#000" stroke-width="1.3" />
<line x1="39.10" y1="719.00" x2="39.10" y2="724.30" stroke="#000" stroke-width="1.3" />
<text x="39.10" y="737.60" font-size="12.4" text-anchor="middle" fill="#1a1a1a" font-weight="normal" >0</text>
<line x1="160.00" y1="719.00" x2="160.00" y2="724.30" stroke="#000" stroke-width="1.3" />
<text x="160.00" y="737.60" font-size="12.4" text-anchor="middle" fill="#1a1a1a" font-weight="normal" >20</text>
<line x1="280.90" y1="719.00" x2="280.90" y2="724.30" stroke="#000" stroke-width="1.3" />
<text x="280.90" y="737.60" font-size="12.4" text-anchor="middle" fill="#1a1a1a" font-weight="normal" >40</text>
<line x1="401.80" y1="719.00" x2="401.80" y2="724.30" stroke="#000" stroke-width="1.3" />
<text x="401.80" y="737.60" font-size="12.4" text-anchor="middle" fill="#1a1a1a" font-weight="normal" >60</text>
<line x1="522.70" y1="719.00" x2="522.70" y2="724.30" stroke="#000" stroke-width="1.3" />
<text x="522.70" y="737.60" font-size="12.4" text-anchor="middle" fill="#1a1a1a" font-weight="normal" >80</text>
<line x1="643.60" y1="719.00" x2="643.60" y2="724.30" stroke="#000" stroke-width="1.3" />
<text x="643.60" y="737.60" font-size="12.4" text-anchor="middle" fill="#1a1a1a" font-weight="normal" >100</text>
<line x1="99.55" y1="719.00" x2="99.55" y2="721.60" stroke="#000" stroke-width="1.3" />
<line x1="220.45" y1="719.00" x2="220.45" y2="721.60" stroke="#000" stroke-width="1.3" />
<line x1="341.35" y1="719.00" x2="341.35" y2="721.60" stroke="#000" stroke-width="1.3" />
<line x1="462.25" y1="719.00" x2="462.25" y2="721.60" stroke="#000" stroke-width="1.3" />
<line x1="583.15" y1="719.00" x2="583.15" y2="721.60" stroke="#000" stroke-width="1.3" />
<text x="341.70" y="755.00" font-size="11.8" text-anchor="middle" fill="#1a1a1a" font-weight="normal" >Time (hour)</text>
<text x="12.60" y="624.20" font-size="11.8" text-anchor="middle" fill="#1a1a1a" font-weight="normal" transform="rotate(-90 12.6 624.2)">Potential (V) vs. RHE</text>
<text x="683.00" y="630.40" font-size="13.0" text-anchor="middle" fill="#ff7b7b" transform="rotate(-90 683.00 630.40)">Faradaic Efficiency (%)</text>
</svg></body></html>
